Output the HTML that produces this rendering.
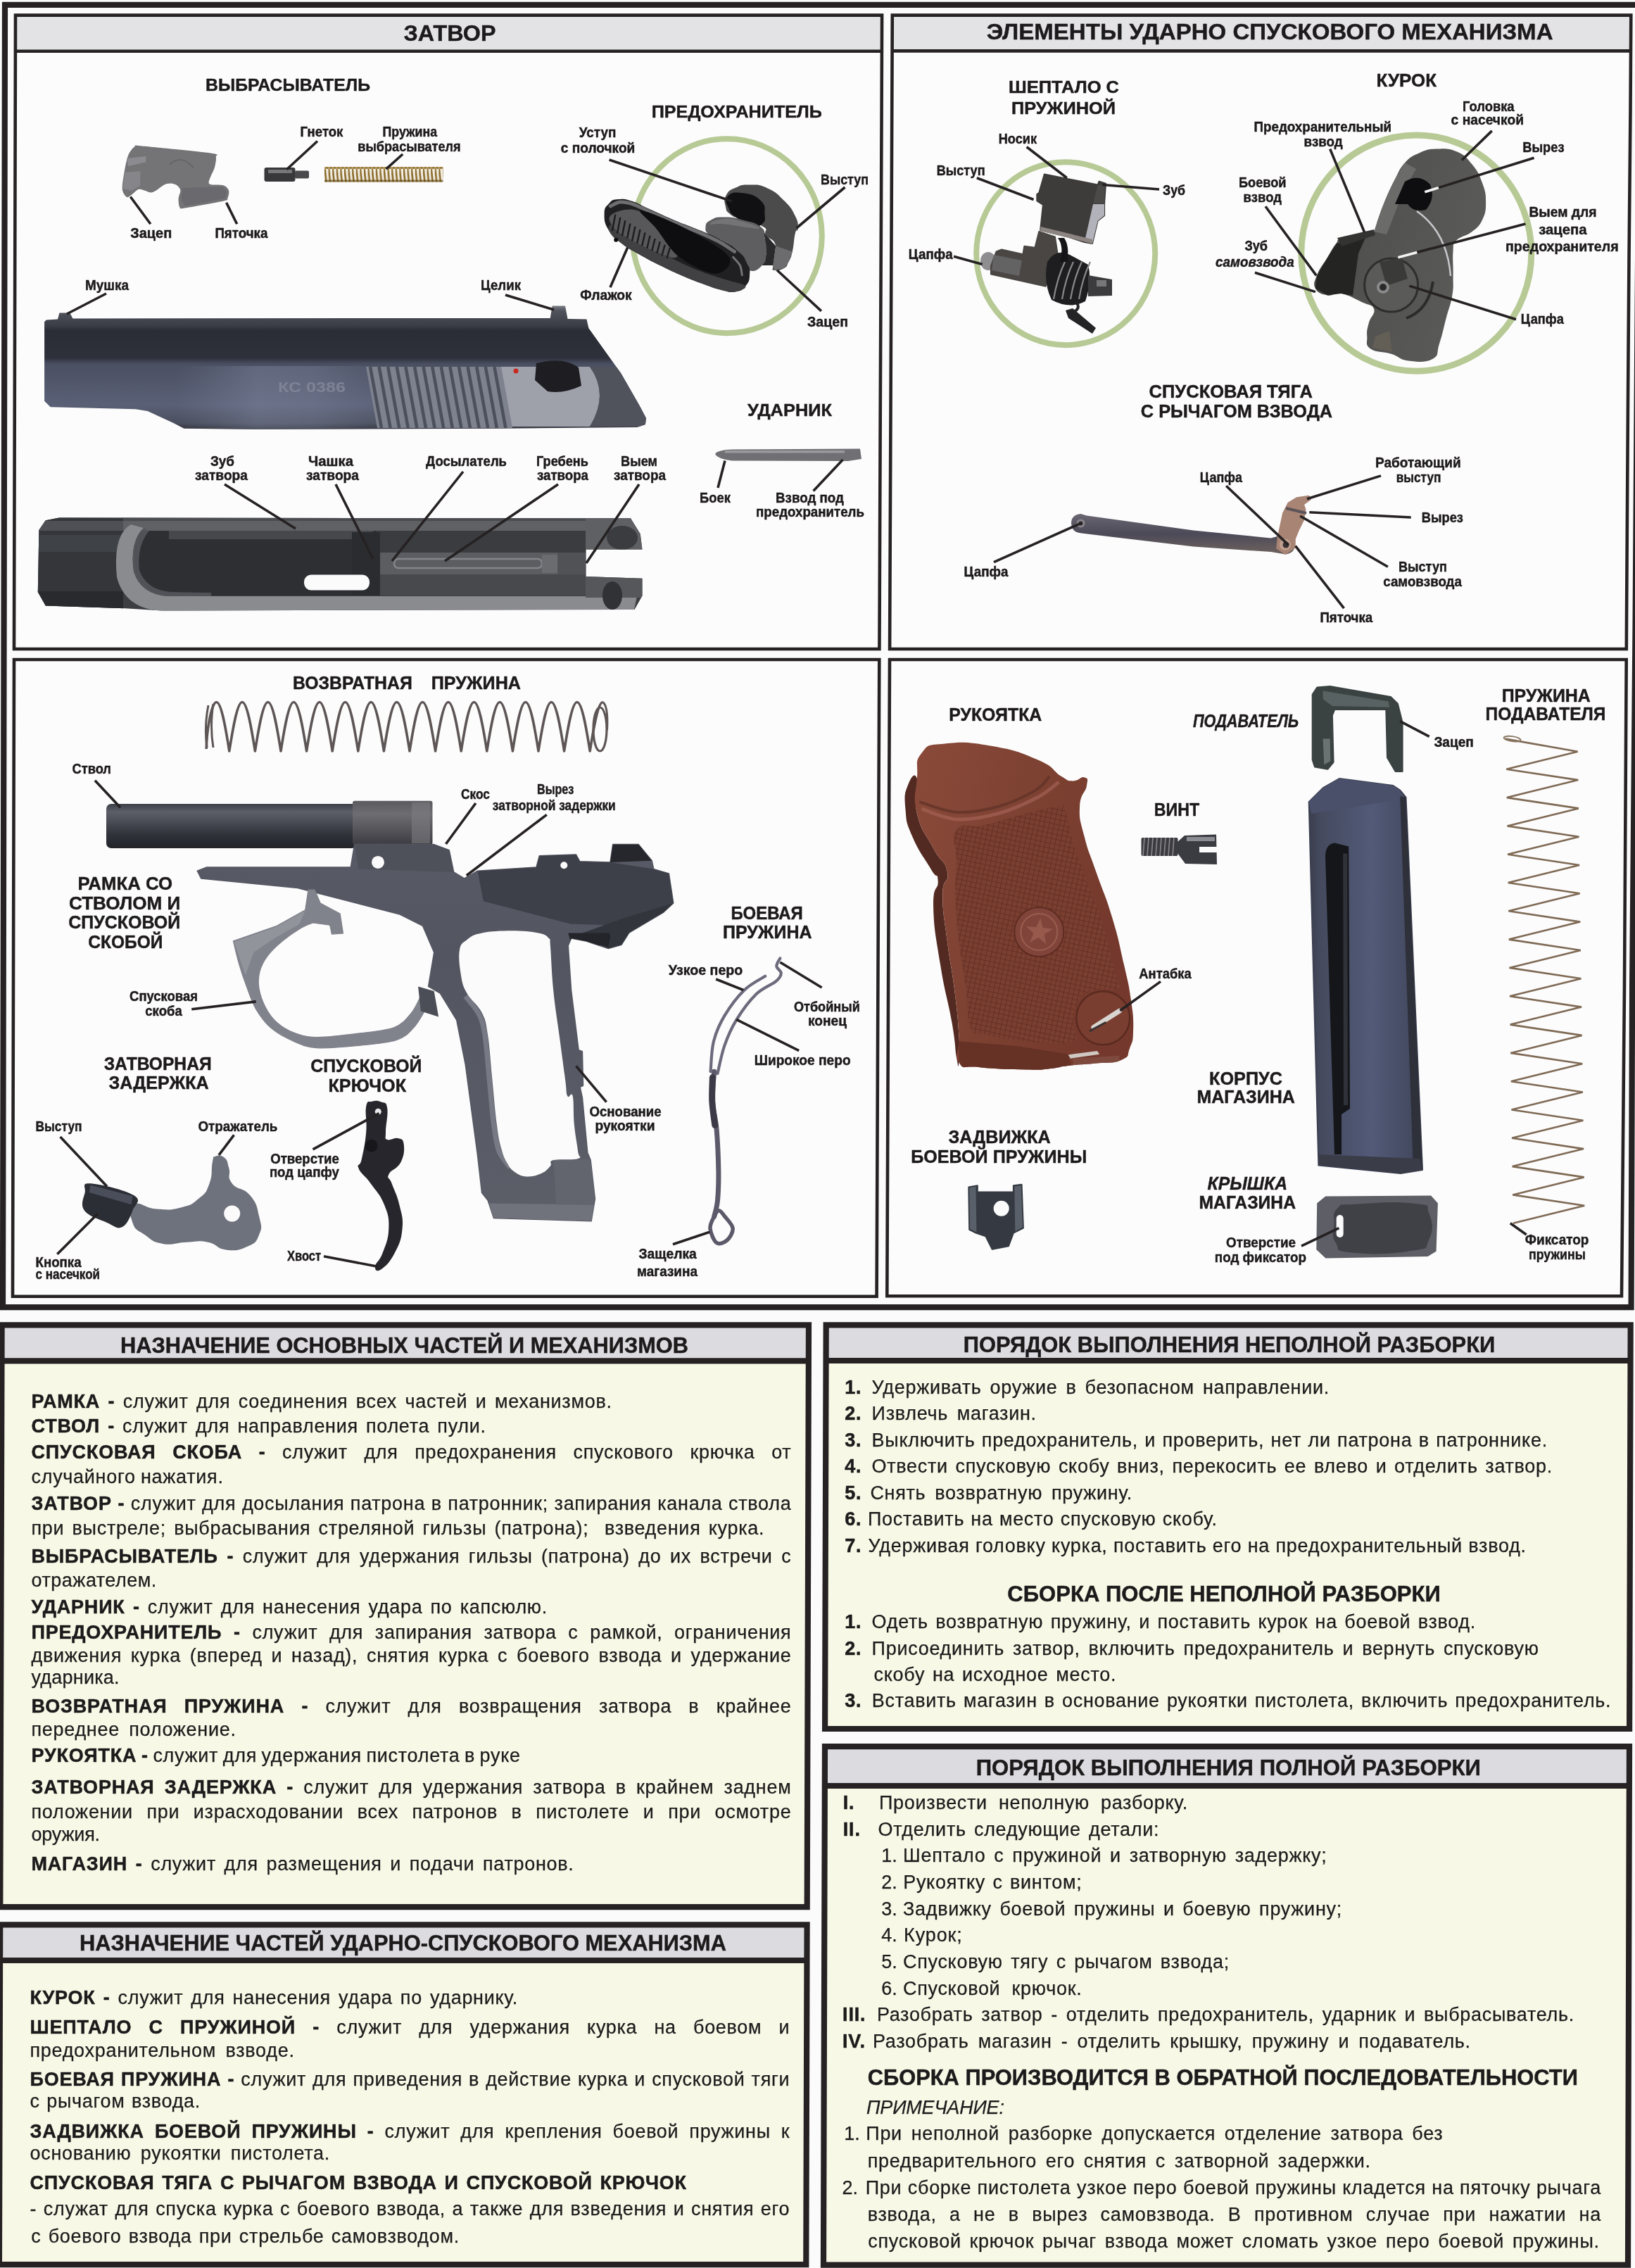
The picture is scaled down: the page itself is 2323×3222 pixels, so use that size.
<!DOCTYPE html><html><head><meta charset="utf-8"><title>PM</title><style>
html,body{margin:0;padding:0;background:#fbfbfb;}body{width:2323px;height:3222px;position:relative;overflow:hidden;filter:blur(0.5px);font-family:"Liberation Sans",sans-serif;}
svg{position:absolute;left:0;top:0;}svg text{font-family:"Liberation Sans",sans-serif;}
.ln{position:absolute;white-space:nowrap;font-size:27px;line-height:32px;height:32px;color:#1d1a1b;-webkit-text-stroke:0.25px #1d1a1b;}
.ln b{font-weight:bold;letter-spacing:0.8px;-webkit-text-stroke:0.5px #1d1a1b;}
</style></head><body>
<svg width="2323" height="3222" viewBox="0 0 2323 3222">
<defs>

<linearGradient id="gSlideT" x1="0" y1="0" x2="0" y2="1">
 <stop offset="0" stop-color="#7a7c84"/><stop offset="0.04" stop-color="#50525c"/><stop offset="0.16" stop-color="#3a3c46"/>
 <stop offset="0.2" stop-color="#2b2d36"/><stop offset="0.42" stop-color="#2e303a"/><stop offset="0.47" stop-color="#4a4f62"/>
 <stop offset="0.8" stop-color="#5a6076"/><stop offset="0.95" stop-color="#4a4e5e"/><stop offset="1" stop-color="#2e3038"/>
</linearGradient>
<linearGradient id="gSheen" x1="0" y1="0" x2="1" y2="0">
 <stop offset="0" stop-color="#8088a0" stop-opacity="0"/><stop offset="0.35" stop-color="#8890a8" stop-opacity="0.38"/>
 <stop offset="0.6" stop-color="#8890a8" stop-opacity="0.32"/><stop offset="1" stop-color="#8088a0" stop-opacity="0"/>
</linearGradient>
<clipPath id="cSlideT"><polygon points="63.1,457.0 66.0,454.5 82.0,453.6 84.4,444.4 99.3,444.4 103.4,452.4 781.8,451.9 784.6,434.6 803.0,434.6 806.5,453.0 833.5,453.6 836.4,466.2 882.4,530.6 908.2,575.5 918.0,593.9 916.9,603.0 905.4,607.1 709.9,608.8 364.9,610.0 261.5,608.8 247.0,601.3 209.7,584.0 192.5,581.2 71.7,578.3 63.1,569.7"/></clipPath>
<clipPath id="cSlideB"><polygon points="55.4,753.0 64.8,739.3 84.0,735.4 896.0,736.5 909.7,758.5 912.5,780.5 832.6,780.5 832.6,819.0 912.5,821.8 912.5,846.6 901.5,865.9 229.9,867.5 177.6,864.2 64.8,860.4 53.8,841.0"/></clipPath>
<linearGradient id="gSlideB" x1="0" y1="0" x2="0" y2="1">
 <stop offset="0" stop-color="#55575c"/><stop offset="0.12" stop-color="#3a3c41"/><stop offset="0.75" stop-color="#2d2f34"/>
 <stop offset="1" stop-color="#3a3c40"/>
</linearGradient>
<linearGradient id="gLever" x1="0" y1="0" x2="0.3" y2="1">
 <stop offset="0" stop-color="#55565a"/><stop offset="0.35" stop-color="#2a2a2c"/><stop offset="0.8" stop-color="#1c1c1e"/><stop offset="1" stop-color="#3a3a3e"/>
</linearGradient>
<pattern id="pSpr1" x="461" y="0" width="5.6" height="30" patternUnits="userSpaceOnUse">
 <rect x="0" y="0" width="5.6" height="30" fill="#f3efe4"/><path d="M0.6 0 L3.6 30" stroke="#8a6a2a" stroke-width="2.6"/>
</pattern>


<linearGradient id="gHam" x1="0" y1="0" x2="1" y2="0.3">
 <stop offset="0" stop-color="#454543"/><stop offset="0.4" stop-color="#515150"/><stop offset="1" stop-color="#5a5a59"/>
</linearGradient>
<linearGradient id="gBar" x1="0" y1="0" x2="0" y2="1">
 <stop offset="0" stop-color="#6a6672"/><stop offset="0.5" stop-color="#4c4a58"/><stop offset="1" stop-color="#6e625e"/>
</linearGradient>


<linearGradient id="gBarrel" x1="0" y1="0" x2="0" y2="1">
 <stop offset="0" stop-color="#3e4048"/><stop offset="0.18" stop-color="#5c5e68"/><stop offset="0.4" stop-color="#4a4c56"/>
 <stop offset="0.7" stop-color="#30323a"/><stop offset="1" stop-color="#22242a"/>
</linearGradient>
<linearGradient id="gChamber" x1="0" y1="0" x2="0" y2="1">
 <stop offset="0" stop-color="#5a5a5e"/><stop offset="0.3" stop-color="#6e6e72"/><stop offset="1" stop-color="#3c3c42"/>
</linearGradient>
<linearGradient id="gFrame" x1="0" y1="0" x2="0" y2="1">
 <stop offset="0" stop-color="#585b66"/><stop offset="0.3" stop-color="#535661"/><stop offset="1" stop-color="#5c5e68"/>
</linearGradient>
<clipPath id="cFrame"><polygon points="280.3,1237.2 293.8,1231.9 498.3,1231.9 503.7,1199.6 616.7,1199.6 638.2,1207.6 644.7,1238.9 659.7,1248.0 678.6,1237.2 762.0,1231.9 766.3,1215.7 818.5,1214.1 823.9,1223.8 867.0,1224.9 870.7,1199.6 907.3,1199.6 926.2,1222.7 928.8,1234.6 950.4,1241.0 956.8,1283.0 942.3,1296.4 893.9,1325.0 883.1,1342.2 864.3,1347.6 832.7,1337.1 811.6,1332.9 807.3,1343.5 811.6,1406.9 822.1,1491.6 827.4,1493.7 828.5,1542.3 824.2,1544.4 827.4,1559.2 834.8,1637.5 839.1,1648.1 845.4,1703.1 840.1,1734.8 701.5,1730.6 693.1,1705.2 684.6,1694.6 678.3,1639.6 669.8,1576.2 661.3,1512.7 648.7,1449.2 625.4,1411.2 608.6,1401.4 616.7,1353.0 600.5,1315.3 568.2,1299.1 422.9,1261.5 285.7,1248.0"/></clipPath>


<linearGradient id="gGrip" x1="0" y1="0" x2="1" y2="0.4">
 <stop offset="0" stop-color="#8a4a3a"/><stop offset="0.5" stop-color="#7e4232"/><stop offset="1" stop-color="#74392c"/>
</linearGradient>
<pattern id="pCheck" width="7" height="7" patternUnits="userSpaceOnUse" patternTransform="rotate(12)">
 <rect width="7" height="7" fill="#7a3f30"/><path d="M0 0H7M0 0V7" stroke="#5e2c22" stroke-width="1.6"/>
</pattern>
<linearGradient id="gMag" x1="0" y1="0" x2="1" y2="0">
 <stop offset="0" stop-color="#3a3d4c"/><stop offset="0.1" stop-color="#454a5e"/><stop offset="0.55" stop-color="#525a78"/>
 <stop offset="0.9" stop-color="#444a60"/><stop offset="1" stop-color="#30323e"/>
</linearGradient>
<clipPath id="cGrip"><path d="M1302.9 1106.1 C1304.7 1083.2 1299.0 1082.9 1309.5 1069.7 C1320.1 1056.5 1316.1 1059.2 1342.6 1056.5 C1369.0 1053.9 1373.4 1053.7 1408.6 1059.8 C1443.9 1066.0 1448.3 1068.2 1474.7 1079.6 C1501.1 1091.1 1494.5 1094.8 1507.7 1102.8 C1520.9 1110.7 1515.4 1108.9 1524.2 1109.4 C1533.0 1109.8 1535.4 1102.6 1540.7 1104.4 C1546.0 1106.2 1545.8 1105.0 1544.0 1116.0 C1542.3 1127.0 1535.0 1126.3 1534.1 1145.7 C1533.2 1165.1 1534.6 1164.0 1540.7 1188.6 C1546.9 1213.3 1546.7 1207.3 1557.2 1238.2 C1567.8 1269.0 1569.8 1269.0 1580.4 1304.2 C1590.9 1339.4 1589.8 1339.4 1596.9 1370.3 C1603.9 1401.1 1603.3 1395.2 1606.8 1419.8 C1610.3 1444.5 1610.5 1444.3 1610.1 1462.7 C1609.6 1481.2 1609.5 1477.7 1605.1 1489.2 C1600.7 1500.6 1606.3 1500.0 1593.6 1505.7 C1580.8 1511.4 1577.5 1508.4 1557.2 1510.6 C1537.0 1512.8 1535.2 1511.9 1517.6 1513.9 C1500.0 1516.0 1507.0 1516.7 1491.2 1518.2 C1475.3 1519.7 1484.6 1520.1 1458.2 1519.6 C1431.7 1519.0 1417.7 1519.1 1392.1 1516.3 C1366.6 1513.4 1370.3 1521.5 1362.4 1509.0 C1354.5 1496.5 1364.1 1497.5 1362.4 1469.4 C1360.6 1441.2 1360.2 1438.5 1355.8 1403.3 C1351.4 1368.1 1350.3 1372.5 1345.9 1337.2 C1341.5 1302.0 1339.3 1297.6 1339.3 1271.2 C1339.3 1244.8 1349.4 1255.8 1345.9 1238.2 C1342.3 1220.5 1337.5 1227.2 1326.1 1205.1 C1314.6 1183.1 1309.1 1182.0 1302.9 1155.6 C1296.8 1129.2 1301.2 1129.0 1302.9 1106.1Z"/></clipPath>

</defs>
<rect x="0" y="0" width="2323" height="3222" fill="#fbfbfb"/>
<path d="M2330.4 6.8 L7.0 6.8 L4.0 1857.2 L2317.6 1857.2 L2319.1 1400.0 L2323.6 882.0 L2325.7 569.0 L2327.1 366.0 L2329.0 157.0 Z" fill="none" stroke="#262223" stroke-width="8.2"/>
<polygon points="22.0,21.6 1253.1,21.6 1252.6,157.0 1251.7,366.0 1250.8,569.0 1249.6,882.0 1249.4,922.0 20.0,922.0" fill="#fcfcfc"/><polygon points="22.0,21.6 1253.1,21.6 1252.9,72.8 21.8,72.8" fill="#e3e3e5"/><line x1="21.8" y1="72.8" x2="1252.9" y2="72.8" stroke="#262223" stroke-width="4.6" stroke-linecap="butt"/><polygon points="22.0,21.6 1253.1,21.6 1252.6,157.0 1251.7,366.0 1250.8,569.0 1249.6,882.0 1249.4,922.0 20.0,922.0" fill="none" stroke="#262223" stroke-width="4.6"/>
<polygon points="1267.8,21.6 2317.3,21.6 2316.5,157.0 2314.5,366.0 2313.0,569.0 2311.0,882.0 2310.8,922.0 1264.1,922.0" fill="#fcfcfc"/><polygon points="1267.8,21.6 2317.3,21.6 2317.0,72.4 1267.6,72.4" fill="#e3e3e5"/><line x1="1267.6" y1="72.4" x2="2317.0" y2="72.4" stroke="#262223" stroke-width="4.6" stroke-linecap="butt"/><polygon points="1267.8,21.6 2317.3,21.6 2316.5,157.0 2314.5,366.0 2313.0,569.0 2311.0,882.0 2310.8,922.0 1264.1,922.0" fill="none" stroke="#262223" stroke-width="4.6"/>
<polygon points="20.0,937.0 1249.3,937.0 1247.4,1400.0 1245.6,1841.7 18.0,1841.7" fill="#fcfcfc"/><polygon points="20.0,937.0 1249.3,937.0 1247.4,1400.0 1245.6,1841.7 18.0,1841.7" fill="none" stroke="#262223" stroke-width="4.6"/>
<polygon points="1264.0,937.0 2310.7,937.0 2308.0,1400.0 2304.0,1841.2 1260.3,1841.2" fill="#fcfcfc"/><polygon points="1264.0,937.0 2310.7,937.0 2308.0,1400.0 2304.0,1841.2 1260.3,1841.2" fill="none" stroke="#262223" stroke-width="4.6"/>
<polygon points="2.6,1882.3 1149.0,1882.3 1146.7,2709.2 0.3,2709.2" fill="#f8f8e6"/><polygon points="2.6,1882.3 1149.0,1882.3 1148.9,1933.4 2.5,1933.4" fill="#dbdbe0"/><line x1="2.5" y1="1933.4" x2="1148.9" y2="1933.4" stroke="#262223" stroke-width="8.2" stroke-linecap="butt"/><polygon points="2.6,1882.3 1149.0,1882.3 1146.7,2709.2 0.3,2709.2" fill="none" stroke="#262223" stroke-width="8.2"/>
<polygon points="0.2,2734.3 1146.6,2734.3 1145.3,3217.2 -1.1,3217.2" fill="#f8f8e6"/><polygon points="0.2,2734.3 1146.6,2734.3 1146.5,2785.0 0.1,2785.0" fill="#dbdbe0"/><line x1="0.1" y1="2785.0" x2="1146.5" y2="2785.0" stroke="#262223" stroke-width="8.2" stroke-linecap="butt"/><polygon points="0.2,2734.3 1146.6,2734.3 1145.3,3217.2 -1.1,3217.2" fill="none" stroke="#262223" stroke-width="8.2"/>
<polygon points="1173.7,1882.3 2316.7,1882.3 2315.1,2456.0 1172.1,2456.0" fill="#f8f8e6"/><polygon points="1173.7,1882.3 2316.7,1882.3 2316.6,1933.0 1173.6,1933.0" fill="#dbdbe0"/><line x1="1173.6" y1="1933.0" x2="2316.6" y2="1933.0" stroke="#262223" stroke-width="8.2" stroke-linecap="butt"/><polygon points="1173.7,1882.3 2316.7,1882.3 2315.1,2456.0 1172.1,2456.0" fill="none" stroke="#262223" stroke-width="8.2"/>
<polygon points="1172.0,2481.2 2315.0,2481.2 2313.0,3217.7 1170.0,3217.7" fill="#f8f8e6"/><polygon points="1172.0,2481.2 2315.0,2481.2 2314.9,2537.0 1171.9,2537.0" fill="#dbdbe0"/><line x1="1171.9" y1="2537.0" x2="2314.9" y2="2537.0" stroke="#262223" stroke-width="8.2" stroke-linecap="butt"/><polygon points="1172.0,2481.2 2315.0,2481.2 2313.0,3217.7 1170.0,3217.7" fill="none" stroke="#262223" stroke-width="8.2"/>
<text x="573.6" y="58.3" font-size="32.0" font-weight="bold" font-style="normal" fill="#1d1a1b" stroke="#1d1a1b" stroke-width="0.45" textLength="130.9" lengthAdjust="spacingAndGlyphs">ЗАТВОР</text>
<text x="292.0" y="129.3" font-size="24.5" font-weight="bold" font-style="normal" fill="#1d1a1b" stroke="#1d1a1b" stroke-width="0.45" textLength="234.0" lengthAdjust="spacingAndGlyphs">ВЫБРАСЫВАТЕЛЬ</text>
<text x="925.7" y="166.8" font-size="24.5" font-weight="bold" font-style="normal" fill="#1d1a1b" stroke="#1d1a1b" stroke-width="0.45" textLength="242.2" lengthAdjust="spacingAndGlyphs">ПРЕДОХРАНИТЕЛЬ</text>
<text x="1062.0" y="591.3" font-size="24.5" font-weight="bold" font-style="normal" fill="#1d1a1b" stroke="#1d1a1b" stroke-width="0.45" textLength="120.0" lengthAdjust="spacingAndGlyphs">УДАРНИК</text>
<path d="M182.0 221.2 C184.2 215.7 188.2 210.4 191.2 208.3 C194.2 206.3 186.0 206.1 202.2 207.4 C218.4 208.8 283.8 215.2 299.4 217.5 C315.1 219.9 306.0 220.0 306.8 223.0 C307.6 226.1 306.1 233.6 305.0 237.7 C303.9 241.8 300.6 247.0 299.4 250.6 C298.3 254.1 294.9 259.6 297.6 261.6 C300.4 263.5 313.7 262.0 317.8 263.4 C321.9 264.8 324.3 268.0 325.1 270.7 C326.0 273.5 324.4 279.5 323.3 281.7 C322.2 283.9 326.9 283.3 317.8 285.4 C308.7 287.5 272.1 294.1 262.8 295.5 C253.4 296.9 256.8 296.7 255.4 294.6 C254.0 292.5 253.4 285.3 253.6 281.7 C253.7 278.2 256.6 273.5 256.3 270.7 C256.1 268.0 253.8 264.9 251.7 263.4 C249.7 261.9 245.3 260.8 242.6 260.6 C239.8 260.5 236.1 261.2 233.4 262.5 C230.6 263.7 227.0 267.2 224.2 268.9 C221.5 270.6 217.8 273.2 215.0 273.5 C212.3 273.8 208.6 271.4 205.9 270.7 C203.1 270.0 199.4 268.1 196.7 268.9 C193.9 269.7 190.0 274.6 187.5 276.2 C185.0 277.9 182.2 281.0 180.2 279.9 C178.1 278.8 174.3 274.1 173.8 268.9 C173.2 263.7 175.3 252.2 176.5 245.0 C177.8 237.9 179.8 226.7 182.0 221.2Z" fill="#747477" />
<polygon points="177.4,245.0 199.4,243.2 199.4,263.4 187.5,270.7 174.7,268.0" fill="#86868a" />
<polygon points="180.2,224.9 207.7,222.1 206.8,230.4 182.0,235.9" fill="#8c8c90" />
<polygon points="259.1,267.1 316.0,265.2 322.4,271.7 320.6,281.7 262.8,292.8 257.2,281.7" fill="#6a6a6e" />
<path d="M240.7 234.0 q16 -16 34 4" stroke="#66666a" stroke-width="2" fill="none"/>
<rect x="375.5" y="238" width="44" height="20" rx="3" fill="#38383a"/><rect x="381" y="241" width="34" height="5" fill="#77777a"/>
<rect x="419" y="242.5" width="20" height="11" rx="2" fill="#4a4a4c"/>
<rect x="461" y="237" width="168.5" height="21.5" fill="url(#pSpr1)"/>
<rect x="461" y="237" width="168.5" height="3" fill="#9a7a38" opacity="0.7"/><rect x="461" y="255.5" width="168.5" height="3" fill="#6a5020" opacity="0.7"/>
<ellipse cx="1033.2" cy="335.2" rx="134.6" ry="138" fill="none" stroke="#b7c995" stroke-width="8"/>
<path d="M1031.8 277.2 C1035.7 270.1 1036.6 270.3 1045.5 266.4 C1054.4 262.5 1053.1 262.2 1065.1 262.5 C1077.1 262.8 1077.5 261.4 1090.5 267.4 C1103.6 273.4 1103.6 274.6 1114.0 285.0 C1124.5 295.5 1124.5 296.1 1129.7 306.5 C1134.9 317.0 1133.6 317.4 1133.6 324.2 C1133.6 331.0 1131.8 323.1 1129.7 332.0 C1127.6 340.9 1128.4 346.5 1125.8 357.4 C1123.2 368.4 1123.0 366.8 1119.9 373.1 C1116.8 379.4 1119.2 378.1 1114.0 380.9 C1108.8 383.8 1104.5 384.9 1100.3 383.9 C1096.1 382.8 1097.8 386.1 1098.4 377.0 C1098.9 367.9 1104.9 361.1 1102.3 349.6 C1099.7 338.1 1093.3 341.3 1088.6 334.0 C1083.9 326.6 1093.5 327.9 1084.7 322.2 C1075.8 316.5 1067.8 317.1 1055.3 312.4 C1042.8 307.7 1044.2 309.8 1037.7 304.6 C1031.2 299.4 1032.4 300.2 1030.8 292.8 C1029.3 285.5 1027.9 284.2 1031.8 277.2Z" fill="#4b4b4c" />
<polygon points="1102.3,349.6 1125.8,357.4 1119.9,373.1 1114.0,380.9 1100.3,383.9 1098.4,377.0" fill="#6c6c6e" />
<path d="M1033.8 279.1 C1039.0 273.1 1042.8 272.7 1055.3 274.3 C1067.8 275.8 1072.4 276.9 1080.8 285.0 C1089.1 293.1 1086.1 295.7 1086.6 304.6 C1087.1 313.5 1087.9 314.1 1082.7 318.3 C1077.5 322.5 1077.0 322.9 1067.1 320.3 C1057.1 317.6 1053.9 314.8 1045.5 308.5 C1037.2 302.2 1038.9 304.6 1035.7 296.8 C1032.6 288.9 1028.6 285.1 1033.8 279.1Z" fill="#111113" />
<polygon points="1080.8,322.2 1088.6,334.0 1102.3,349.6 1098.4,377.0 1082.7,377.0 1088.6,361.4 1086.6,337.9" fill="#2a2a2c" />
<path d="M1002.5 322.2 C1003.0 316.5 1003.5 316.1 1010.3 312.4 C1017.1 308.8 1015.9 308.5 1027.9 308.5 C1039.9 308.5 1041.2 308.8 1055.3 312.4 C1069.4 316.1 1072.4 315.4 1080.8 322.2 C1089.1 329.0 1084.5 327.4 1086.6 337.9 C1088.7 348.3 1089.6 350.9 1088.6 361.4 C1087.5 371.8 1088.5 370.7 1082.7 377.0 C1077.0 383.3 1072.8 385.9 1067.1 384.8 C1061.3 383.8 1066.4 380.9 1061.2 373.1 C1056.0 365.3 1056.9 363.8 1047.5 355.5 C1038.1 347.1 1036.4 347.5 1025.9 341.8 C1015.5 336.0 1014.6 339.2 1008.3 334.0 C1002.1 328.7 1001.9 327.9 1002.5 322.2Z" fill="#5e5e60" />
<path d="M1008.3 318.3 C1008.3 316.3 1015.4 311.8 1027.9 310.9 C1040.4 309.9 1041.7 311.2 1055.3 314.8 C1068.9 318.3 1078.8 322.2 1078.8 324.2 C1078.8 326.1 1068.9 323.8 1055.3 322.2 C1041.7 320.6 1040.4 319.3 1027.9 318.3 C1015.4 317.2 1008.3 320.3 1008.3 318.3Z" fill="#747476" />
<path d="M858.6 304.6 C858.6 294.2 860.0 294.7 865.4 288.9 C870.9 283.2 870.3 283.8 879.1 283.1 C888.0 282.3 887.2 282.3 898.7 286.0 C910.2 289.7 906.5 289.7 922.2 296.8 C937.9 303.8 937.6 304.1 957.4 312.4 C977.3 320.8 978.3 320.3 996.6 328.1 C1014.9 335.9 1012.4 334.5 1025.9 341.8 C1039.5 349.1 1038.1 347.1 1047.5 355.5 C1056.9 363.8 1056.5 363.7 1061.2 373.1 C1065.9 382.5 1065.6 381.8 1065.1 390.7 C1064.6 399.6 1064.4 400.1 1059.2 406.4 C1054.0 412.6 1054.4 412.6 1045.5 414.2 C1036.6 415.8 1039.0 415.4 1025.9 412.2 C1012.9 409.1 1012.2 408.2 996.6 402.5 C980.9 396.7 982.9 397.5 967.2 390.7 C951.6 383.9 953.5 384.8 937.9 377.0 C922.2 369.2 923.1 369.7 908.5 361.4 C893.9 353.0 894.5 354.6 883.1 345.7 C871.6 336.8 872.0 339.0 865.4 328.1 C858.9 317.1 858.6 315.0 858.6 304.6Z" fill="#202022" />
<path d="M865.4 328.1 C867.8 333.6 874.4 339.0 883.1 345.7 C891.7 352.4 897.5 355.1 908.5 361.4 C919.5 367.6 926.1 371.1 937.9 377.0 C949.6 382.9 955.5 385.6 967.2 390.7 C979.0 395.8 984.8 398.2 996.6 402.5 C1008.3 406.8 1016.2 409.9 1025.9 412.2 C1035.7 414.6 1038.9 415.4 1045.5 414.2 C1052.2 413.0 1061.2 409.5 1059.2 406.4 C1057.3 403.2 1048.3 402.7 1035.7 398.5 C1023.2 394.4 1012.2 391.9 996.6 385.8 C980.9 379.8 973.1 376.0 957.4 368.2 C941.8 360.4 932.0 354.9 918.3 346.7 C904.6 338.5 898.3 332.8 888.9 327.1 C879.5 321.4 876.0 318.1 871.3 318.3 C866.6 318.5 863.1 322.6 865.4 328.1Z" fill="#414143" />
<path d="M867.4 292.8 C869.7 291.9 875.9 287.5 881.1 287.0 C886.3 286.5 891.9 287.7 898.7 289.9 C905.6 292.1 912.4 295.9 922.2 300.3 C932.0 304.6 945.0 310.7 957.4 315.9 C969.8 321.2 985.5 326.8 996.6 331.6 C1007.7 336.4 1016.2 340.4 1024.0 344.7 C1031.8 349.0 1040.3 355.3 1043.6 357.4" stroke="#6e6e70" stroke-width="5" fill="none" stroke-linecap="round"/>
<path d="M869.4 304.6 C876.0 299.9 892.1 295.2 904.6 298.7 C917.1 302.2 921.4 312.0 932.0 322.2 C942.6 332.4 951.6 341.0 957.4 349.6 C963.3 358.2 964.5 362.9 961.4 365.3 C958.2 367.6 954.3 366.1 941.8 361.4 C929.3 356.7 912.8 349.6 898.7 341.8 C884.6 334.0 877.2 329.6 871.3 322.2 C865.4 314.8 862.7 309.3 869.4 304.6Z" fill="#58585a" />
<line x1="874.3" y1="304.6" x2="869.9" y2="328.1" stroke="#1c1c1e" stroke-width="2.4"/>
<line x1="881.3" y1="308.9" x2="877.0" y2="331.6" stroke="#1c1c1e" stroke-width="2.4"/>
<line x1="888.3" y1="313.2" x2="884.0" y2="335.1" stroke="#1c1c1e" stroke-width="2.4"/>
<line x1="895.4" y1="317.5" x2="891.1" y2="338.6" stroke="#1c1c1e" stroke-width="2.4"/>
<line x1="902.4" y1="321.8" x2="898.1" y2="342.2" stroke="#1c1c1e" stroke-width="2.4"/>
<line x1="909.5" y1="326.1" x2="905.2" y2="345.7" stroke="#1c1c1e" stroke-width="2.4"/>
<line x1="916.5" y1="330.4" x2="912.2" y2="349.2" stroke="#1c1c1e" stroke-width="2.4"/>
<line x1="923.6" y1="334.7" x2="919.3" y2="352.7" stroke="#1c1c1e" stroke-width="2.4"/>
<line x1="930.6" y1="339.0" x2="926.3" y2="356.3" stroke="#1c1c1e" stroke-width="2.4"/>
<line x1="937.7" y1="343.3" x2="933.4" y2="359.8" stroke="#1c1c1e" stroke-width="2.4"/>
<line x1="944.7" y1="347.7" x2="940.4" y2="363.3" stroke="#1c1c1e" stroke-width="2.4"/>
<line x1="951.8" y1="352.0" x2="947.5" y2="366.8" stroke="#1c1c1e" stroke-width="2.4"/>
<path d="M910.5 298.7 C918.0 299.0 956.1 315.0 977.0 326.1 C997.9 337.2 1029.2 354.8 1035.7 365.3 C1042.3 375.7 1027.9 388.8 1016.2 388.8 C1004.4 388.8 979.3 376.0 965.3 365.3 C951.2 354.5 941.1 335.3 932.0 324.2 C922.9 313.1 903.0 298.4 910.5 298.7Z" fill="#0e0e10" />
<path d="M1041.6 365.3 C1043.2 367.2 1049.3 372.8 1051.4 377.0 C1053.5 381.3 1053.8 388.4 1054.3 390.7" stroke="#8a8a8c" stroke-width="3" fill="none" stroke-linecap="round" opacity="0.8"/>
<circle cx="875.2" cy="340.8" r="3" fill="#0c0c0d"/>
<polygon points="63.1,457.0 66.0,454.5 82.0,453.6 84.4,444.4 99.3,444.4 103.4,452.4 781.8,451.9 784.6,434.6 803.0,434.6 806.5,453.0 833.5,453.6 836.4,466.2 882.4,530.6 908.2,575.5 918.0,593.9 916.9,603.0 905.4,607.1 709.9,608.8 364.9,610.0 261.5,608.8 247.0,601.3 209.7,584.0 192.5,581.2 71.7,578.3 63.1,569.7" fill="url(#gSlideT)" />
<g clip-path="url(#cSlideT)">
<rect x="250" y="520" width="330" height="92" fill="url(#gSheen)"/>
<path d="M705 521 L838 521 Q866 560 838 606 L720 606 Z" fill="#9ea0aa"/>
<path d="M520 521 L712 521 L728 608 L536 608 Z" fill="#7e818e"/>
<path d="M526.0 521 L542.0 608" stroke="#4c4f5c" stroke-width="4.5"/>
<path d="M538.6 521 L554.6 608" stroke="#4c4f5c" stroke-width="4.5"/>
<path d="M551.2 521 L567.2 608" stroke="#4c4f5c" stroke-width="4.5"/>
<path d="M563.8 521 L579.8 608" stroke="#4c4f5c" stroke-width="4.5"/>
<path d="M576.4 521 L592.4 608" stroke="#4c4f5c" stroke-width="4.5"/>
<path d="M589.0 521 L605.0 608" stroke="#4c4f5c" stroke-width="4.5"/>
<path d="M601.6 521 L617.6 608" stroke="#4c4f5c" stroke-width="4.5"/>
<path d="M614.2 521 L630.2 608" stroke="#4c4f5c" stroke-width="4.5"/>
<path d="M626.8 521 L642.8 608" stroke="#4c4f5c" stroke-width="4.5"/>
<path d="M639.4 521 L655.4 608" stroke="#4c4f5c" stroke-width="4.5"/>
<path d="M652.0 521 L668.0 608" stroke="#4c4f5c" stroke-width="4.5"/>
<path d="M664.6 521 L680.6 608" stroke="#4c4f5c" stroke-width="4.5"/>
<path d="M677.2 521 L693.2 608" stroke="#4c4f5c" stroke-width="4.5"/>
<path d="M689.8 521 L705.8 608" stroke="#4c4f5c" stroke-width="4.5"/>
<path d="M702.4 521 L718.4 608" stroke="#4c4f5c" stroke-width="4.5"/>
<path d="M838 521 L880 521 L925 606 L838 606 Q866 560 838 521 Z" fill="#50525c"/>
<path d="M762 516 Q800 506 822 522 L826 548 Q800 560 778 556 L760 540 Z" fill="#1e1e22"/>
<circle cx="733" cy="527" r="3.5" fill="#c8281e"/>
<text x="395" y="557" font-size="20" font-weight="bold" fill="#7e8396" textLength="96" lengthAdjust="spacingAndGlyphs">КС 0386</text>
</g>
<polygon points="55.4,753.0 64.8,739.3 84.0,735.4 896.0,736.5 909.7,758.5 912.5,780.5 832.6,780.5 832.6,819.0 912.5,821.8 912.5,846.6 901.5,865.9 229.9,867.5 177.6,864.2 64.8,860.4 53.8,841.0" fill="#3c3e42" />
<g clip-path="url(#cSlideB)">
<rect x="50" y="735" width="125" height="135" fill="#34363a"/>
<rect x="50" y="740" width="125" height="14" fill="#55575c" opacity="0.8"/>
<rect x="50" y="760" width="125" height="24" fill="#45474c" opacity="0.7"/>
<rect x="50" y="840" width="125" height="26" fill="#26282b" opacity="0.8"/>
<rect x="175" y="735" width="740" height="19" fill="#5f6165"/>
<rect x="175" y="735" width="740" height="5" fill="#4a4c50"/>
<path d="M200 754 L535 754 L535 846 L240 846 Q200 842 192 810 Q188 772 200 754Z" fill="#2d2f33"/>
<rect x="240" y="754" width="290" height="12" fill="#46484c"/>
<rect x="535" y="754" width="297" height="31" fill="#3a3c3f"/>
<rect x="540" y="785" width="252" height="31" fill="#5b5d60"/>
<rect x="560" y="794" width="210" height="13" rx="6" fill="none" stroke="#83858a" stroke-width="2.5"/>
<rect x="770" y="788" width="26" height="26" fill="#6a6c70"/>
<rect x="535" y="816" width="297" height="30" fill="#47494c"/>
<rect x="792" y="785" width="40" height="31" fill="#505255"/>
<rect x="500" y="756" width="40" height="90" fill="#2a2c2f"/>
<path d="M186 745 Q160 760 166 820 Q178 866 232 868 L901 866 L905 847 L238 847 Q200 844 190 812 Q184 770 204 750 Z" fill="#898b8f"/>
<path d="M204 750 Q184 770 190 812 Q200 844 238 847 L300 847 L300 842 L242 841 Q208 838 198 810 Q194 775 212 754 Z" fill="#55575b" opacity="0.9"/>
<rect x="832" y="736" width="85" height="45" fill="#5e6063"/>
<ellipse cx="884" cy="764" rx="22" ry="17" fill="#3a3c3f"/>
<rect x="832" y="819" width="85" height="30" fill="#55575a"/>
<ellipse cx="870" cy="846" rx="14" ry="20" fill="#303235"/>
</g>
<rect x="432" y="816.5" width="93" height="22" rx="10" fill="#fbfbfb"/>
<path d="M1016 645 Q1020 639 1040 638.5 L1222 637.5 L1224 652 L1205 655 L1040 654.5 Q1020 652 1016 645Z" fill="#707074"/>
<rect x="1030" y="640" width="170" height="3.5" fill="#9a9a9e"/>
<line x1="451.0" y1="200.5" x2="407.3" y2="240.8" stroke="#262223" stroke-width="3.6" stroke-linecap="butt"/>
<line x1="572.2" y1="219.0" x2="548.6" y2="240.2" stroke="#262223" stroke-width="3.6" stroke-linecap="butt"/>
<line x1="213.9" y1="318.2" x2="185.3" y2="279.5" stroke="#262223" stroke-width="3.6" stroke-linecap="butt"/>
<line x1="336.7" y1="318.2" x2="321.6" y2="287.9" stroke="#262223" stroke-width="3.6" stroke-linecap="butt"/>
<line x1="151.0" y1="417.0" x2="95.0" y2="446.0" stroke="#262223" stroke-width="3.6" stroke-linecap="butt"/>
<line x1="718.0" y1="419.0" x2="787.0" y2="440.0" stroke="#262223" stroke-width="3.6" stroke-linecap="butt"/>
<line x1="865.6" y1="227.0" x2="1040.0" y2="286.0" stroke="#262223" stroke-width="3.6" stroke-linecap="butt"/>
<line x1="1200.5" y1="266.0" x2="1131.7" y2="324.0" stroke="#262223" stroke-width="3.6" stroke-linecap="butt"/>
<line x1="867.0" y1="408.3" x2="891.6" y2="351.7" stroke="#262223" stroke-width="3.6" stroke-linecap="butt"/>
<line x1="1166.9" y1="441.9" x2="1104.0" y2="383.8" stroke="#262223" stroke-width="3.6" stroke-linecap="butt"/>
<line x1="319.0" y1="688.0" x2="420.0" y2="751.0" stroke="#262223" stroke-width="3.6" stroke-linecap="butt"/>
<line x1="477.0" y1="688.0" x2="530.0" y2="794.0" stroke="#262223" stroke-width="3.6" stroke-linecap="butt"/>
<line x1="658.0" y1="670.0" x2="557.0" y2="797.0" stroke="#262223" stroke-width="3.6" stroke-linecap="butt"/>
<line x1="793.0" y1="688.0" x2="632.0" y2="797.0" stroke="#262223" stroke-width="3.6" stroke-linecap="butt"/>
<line x1="908.0" y1="688.0" x2="833.0" y2="800.0" stroke="#262223" stroke-width="3.6" stroke-linecap="butt"/>
<line x1="1030.0" y1="654.5" x2="1020.0" y2="693.0" stroke="#262223" stroke-width="3.6" stroke-linecap="butt"/>
<line x1="1197.5" y1="653.0" x2="1155.6" y2="697.5" stroke="#262223" stroke-width="3.6" stroke-linecap="butt"/>
<text x="426.5" y="194.0" font-size="19.5" font-weight="bold" font-style="normal" fill="#1d1a1b" stroke="#1d1a1b" stroke-width="0.45" textLength="60.9" lengthAdjust="spacingAndGlyphs">Гнеток</text>
<text x="543.6" y="194.0" font-size="19.5" font-weight="bold" font-style="normal" fill="#1d1a1b" stroke="#1d1a1b" stroke-width="0.45" textLength="77.4" lengthAdjust="spacingAndGlyphs">Пружина</text>
<text x="508.3" y="214.5" font-size="19.5" font-weight="bold" font-style="normal" fill="#1d1a1b" stroke="#1d1a1b" stroke-width="0.45" textLength="146.3" lengthAdjust="spacingAndGlyphs">выбрасывателя</text>
<text x="185.3" y="338.0" font-size="19.5" font-weight="bold" font-style="normal" fill="#1d1a1b" stroke="#1d1a1b" stroke-width="0.45" textLength="58.9" lengthAdjust="spacingAndGlyphs">Зацеп</text>
<text x="305.4" y="338.0" font-size="19.5" font-weight="bold" font-style="normal" fill="#1d1a1b" stroke="#1d1a1b" stroke-width="0.45" textLength="75.0" lengthAdjust="spacingAndGlyphs">Пяточка</text>
<text x="121.0" y="411.5" font-size="19.5" font-weight="bold" font-style="normal" fill="#1d1a1b" stroke="#1d1a1b" stroke-width="0.45" textLength="62.0" lengthAdjust="spacingAndGlyphs">Мушка</text>
<text x="683.0" y="411.5" font-size="19.5" font-weight="bold" font-style="normal" fill="#1d1a1b" stroke="#1d1a1b" stroke-width="0.45" textLength="57.0" lengthAdjust="spacingAndGlyphs">Целик</text>
<text x="822.8" y="195.0" font-size="19.5" font-weight="bold" font-style="normal" fill="#1d1a1b" stroke="#1d1a1b" stroke-width="0.45" textLength="52.6" lengthAdjust="spacingAndGlyphs">Уступ</text>
<text x="796.8" y="216.5" font-size="19.5" font-weight="bold" font-style="normal" fill="#1d1a1b" stroke="#1d1a1b" stroke-width="0.45" textLength="105.5" lengthAdjust="spacingAndGlyphs">с полочкой</text>
<text x="1166.0" y="262.3" font-size="19.5" font-weight="bold" font-style="normal" fill="#1d1a1b" stroke="#1d1a1b" stroke-width="0.45" textLength="68.0" lengthAdjust="spacingAndGlyphs">Выступ</text>
<text x="824.3" y="426.0" font-size="19.5" font-weight="bold" font-style="normal" fill="#1d1a1b" stroke="#1d1a1b" stroke-width="0.45" textLength="73.4" lengthAdjust="spacingAndGlyphs">Флажок</text>
<text x="1147.0" y="464.0" font-size="19.5" font-weight="bold" font-style="normal" fill="#1d1a1b" stroke="#1d1a1b" stroke-width="0.45" textLength="58.0" lengthAdjust="spacingAndGlyphs">Зацеп</text>
<text x="299.0" y="662.0" font-size="19.5" font-weight="bold" font-style="normal" fill="#1d1a1b" stroke="#1d1a1b" stroke-width="0.45" textLength="34.0" lengthAdjust="spacingAndGlyphs">Зуб</text>
<text x="277.0" y="682.0" font-size="19.5" font-weight="bold" font-style="normal" fill="#1d1a1b" stroke="#1d1a1b" stroke-width="0.45" textLength="75.0" lengthAdjust="spacingAndGlyphs">затвора</text>
<text x="438.0" y="662.0" font-size="19.5" font-weight="bold" font-style="normal" fill="#1d1a1b" stroke="#1d1a1b" stroke-width="0.45" textLength="64.0" lengthAdjust="spacingAndGlyphs">Чашка</text>
<text x="435.0" y="682.0" font-size="19.5" font-weight="bold" font-style="normal" fill="#1d1a1b" stroke="#1d1a1b" stroke-width="0.45" textLength="75.0" lengthAdjust="spacingAndGlyphs">затвора</text>
<text x="605.0" y="662.0" font-size="19.5" font-weight="bold" font-style="normal" fill="#1d1a1b" stroke="#1d1a1b" stroke-width="0.45" textLength="115.0" lengthAdjust="spacingAndGlyphs">Досылатель</text>
<text x="762.0" y="662.0" font-size="19.5" font-weight="bold" font-style="normal" fill="#1d1a1b" stroke="#1d1a1b" stroke-width="0.45" textLength="74.0" lengthAdjust="spacingAndGlyphs">Гребень</text>
<text x="763.0" y="682.0" font-size="19.5" font-weight="bold" font-style="normal" fill="#1d1a1b" stroke="#1d1a1b" stroke-width="0.45" textLength="73.0" lengthAdjust="spacingAndGlyphs">затвора</text>
<text x="882.0" y="662.0" font-size="19.5" font-weight="bold" font-style="normal" fill="#1d1a1b" stroke="#1d1a1b" stroke-width="0.45" textLength="52.0" lengthAdjust="spacingAndGlyphs">Выем</text>
<text x="872.0" y="682.0" font-size="19.5" font-weight="bold" font-style="normal" fill="#1d1a1b" stroke="#1d1a1b" stroke-width="0.45" textLength="74.0" lengthAdjust="spacingAndGlyphs">затвора</text>
<text x="994.0" y="714.3" font-size="19.5" font-weight="bold" font-style="normal" fill="#1d1a1b" stroke="#1d1a1b" stroke-width="0.45" textLength="44.0" lengthAdjust="spacingAndGlyphs">Боек</text>
<text x="1102.0" y="714.3" font-size="19.5" font-weight="bold" font-style="normal" fill="#1d1a1b" stroke="#1d1a1b" stroke-width="0.45" textLength="97.0" lengthAdjust="spacingAndGlyphs">Взвод под</text>
<text x="1074.0" y="733.5" font-size="19.5" font-weight="bold" font-style="normal" fill="#1d1a1b" stroke="#1d1a1b" stroke-width="0.45" textLength="154.0" lengthAdjust="spacingAndGlyphs">предохранитель</text>
<text x="1401.8" y="56.4" font-size="32.0" font-weight="bold" font-style="normal" fill="#1d1a1b" stroke="#1d1a1b" stroke-width="0.45" textLength="804.7" lengthAdjust="spacingAndGlyphs">ЭЛЕМЕНТЫ УДАРНО СПУСКОВОГО МЕХАНИЗМА</text>
<text x="1433.0" y="132.4" font-size="24.5" font-weight="bold" font-style="normal" fill="#1d1a1b" stroke="#1d1a1b" stroke-width="0.45" textLength="157.0" lengthAdjust="spacingAndGlyphs">ШЕПТАЛО С</text>
<text x="1437.0" y="161.5" font-size="24.5" font-weight="bold" font-style="normal" fill="#1d1a1b" stroke="#1d1a1b" stroke-width="0.45" textLength="148.0" lengthAdjust="spacingAndGlyphs">ПРУЖИНОЙ</text>
<text x="1955.5" y="122.5" font-size="25.0" font-weight="bold" font-style="normal" fill="#1d1a1b" stroke="#1d1a1b" stroke-width="0.45" textLength="85.5" lengthAdjust="spacingAndGlyphs">КУРОК</text>
<text x="1632.6" y="564.5" font-size="25.0" font-weight="bold" font-style="normal" fill="#1d1a1b" stroke="#1d1a1b" stroke-width="0.45" textLength="232.4" lengthAdjust="spacingAndGlyphs">СПУСКОВАЯ ТЯГА</text>
<text x="1620.8" y="592.5" font-size="25.0" font-weight="bold" font-style="normal" fill="#1d1a1b" stroke="#1d1a1b" stroke-width="0.45" textLength="272.2" lengthAdjust="spacingAndGlyphs">С РЫЧАГОМ ВЗВОДА</text>
<ellipse cx="1514.2" cy="360.2" rx="127" ry="130" fill="none" stroke="#b7c995" stroke-width="8"/>
<ellipse cx="2012.3" cy="359.6" rx="163.5" ry="167.6" fill="none" stroke="#b7c995" stroke-width="9"/>
<ellipse cx="1404" cy="371" rx="11" ry="13" fill="#8e8e90"/>
<polygon points="1476.2,328.9 1498.9,336.5 1502.7,361.2 1493.2,389.6 1485.7,406.7 1407.9,389.6 1407.9,378.2 1415.5,357.4 1423.1,354.5 1453.4,361.2 1455.3,349.8 1470.5,351.7" fill="#4a4644" stroke="#4a4644" stroke-width="2" stroke-linejoin="round"/>
<path d="M1412 362 L1452 370 L1448 392 L1409 384 Z" fill="#6a6a6c" opacity="0.8"/>
<path d="M1488 372 Q1500 352 1520 362 L1546 376 Q1552 400 1542 428 Q1520 440 1494 426 Q1482 400 1488 372Z" fill="#1e1e20"/>
<path d="M1497.0 425 Q1502.0 395 1513.0 372" stroke="#8a8a8e" stroke-width="2.2" fill="none"/>
<path d="M1509.0 425 Q1514.0 395 1525.0 372" stroke="#8a8a8e" stroke-width="2.2" fill="none"/>
<path d="M1521.0 425 Q1526.0 395 1537.0 372" stroke="#8a8a8e" stroke-width="2.2" fill="none"/>
<path d="M1533.0 425 Q1538.0 395 1549.0 372" stroke="#8a8a8e" stroke-width="2.2" fill="none"/>
<path d="M1546 391 L1580 397 L1580 420 L1546 421 Z" fill="#3c3c3e"/>
<rect x="1558" y="398" width="14" height="9" fill="#77777a"/>
<path d="M1503 338 Q1512 350 1506 372 L1516 372 Q1520 350 1512 338 Z" fill="#151517"/>
<path d="M1514 441 L1524 438 L1557 466 L1552 474 L1518 452 Z" fill="#242426"/>
<path d="M1530 430 Q1536 440 1522 444" stroke="#242426" stroke-width="4" fill="none"/>
<polygon points="1483.8,247.4 1559.6,262.6 1561.5,257.8 1571.0,260.7 1569.1,289.1 1569.1,306.2 1559.6,313.8 1552.0,346.0 1540.6,344.1 1517.9,336.5 1478.1,327.0 1481.9,291.0 1473.3,285.3 1473.3,275.8 1476.2,274.0" fill="#3e3c3a" stroke="#3e3c3a" stroke-width="2" stroke-linejoin="round"/>
<polygon points="1553.0,290.0 1569.0,290.0 1569.0,306.0 1559.6,313.8 1552.0,346.0 1541.0,343.0" fill="#b2b2ba" />
<polygon points="1559.6,263.5 1570.0,261.5 1568.5,289.0 1553.0,289.0" fill="#4c4a48" />
<polygon points="1478.5,322.0 1552.0,340.0 1552.0,346.0 1478.1,328.0" fill="#8c8480" />
<path d="M1996.1 231.2 C2004.1 222.4 2005.4 222.3 2015.7 217.7 C2026.0 213.1 2027.6 212.2 2040.2 211.6 C2052.8 211.0 2057.5 210.2 2069.5 215.3 C2081.5 220.4 2083.0 223.1 2091.6 233.6 C2100.2 244.1 2101.6 247.9 2106.2 260.5 C2110.8 273.1 2111.1 275.4 2111.1 287.4 C2111.1 299.4 2110.8 302.2 2106.2 311.9 C2101.6 321.6 2100.2 322.1 2091.6 329.0 C2083.0 335.9 2075.8 335.0 2069.5 341.3 C2063.2 347.6 2065.7 344.5 2064.6 355.9 C2063.5 367.3 2064.9 375.4 2064.6 390.2 C2064.3 405.0 2065.7 405.2 2063.4 419.5 C2061.1 433.8 2059.2 435.3 2054.9 451.3 C2050.6 467.3 2049.7 474.3 2045.1 488.0 C2040.5 501.7 2045.6 504.4 2035.3 510.1 C2025.0 515.8 2014.7 514.2 2001.0 512.5 C1987.3 510.8 1989.2 506.7 1976.6 502.7 C1964.0 498.7 1955.2 501.1 1947.2 495.4 C1939.2 489.7 1942.9 486.9 1942.3 478.3 C1941.7 469.7 1942.5 467.8 1944.8 458.7 C1947.1 449.6 1954.4 446.0 1952.1 439.1 C1949.8 432.2 1945.8 434.4 1935.0 429.3 C1924.2 424.2 1917.0 419.4 1905.6 417.1 C1894.2 414.8 1894.7 421.2 1886.1 419.5 C1877.5 417.8 1872.3 416.6 1868.9 409.8 C1865.5 403.0 1867.4 400.5 1871.4 390.2 C1875.4 379.9 1879.8 376.0 1886.1 365.7 C1892.4 355.4 1893.2 352.4 1898.3 346.1 C1903.4 339.8 1895.5 342.8 1908.1 338.8 C1920.7 334.8 1940.7 334.7 1952.1 329.0 C1963.5 323.3 1953.6 324.0 1957.0 314.3 C1960.4 304.6 1961.1 301.1 1966.8 287.4 C1972.5 273.7 1974.7 268.7 1981.5 255.6 C1988.3 242.5 1988.1 240.0 1996.1 231.2Z" fill="url(#gHam)" />
<polygon points="1996.1,231.2 1981.5,255.6 1966.8,287.4 1957.0,314.3 1952.1,329.0 1970.0,333.0 1976.0,318.0 1986.0,292.0 1999.0,263.0 2012.0,240.0" fill="#6b6b6a" />
<polygon points="1871.0,392.0 1886.0,366.0 1899.0,346.0 1940.0,338.0 1930.0,360.0 1922.0,420.0 1905.6,417.1 1886.1,419.5 1868.9,409.8" fill="#242422" />
<polygon points="1900.0,338.0 1952.0,326.0 1954.0,334.0 1906.0,350.0" fill="#333331" />
<circle cx="1976.6" cy="405" r="38" fill="#5a5a58"/><circle cx="1976.6" cy="405" r="38" fill="none" stroke="#2e2e2c" stroke-width="3"/>
<path d="M1960 372 l32 -6 l8 30 l-30 10 z" fill="#3a3a38"/>
<circle cx="1965" cy="408" r="9" fill="#8a8a8c"/><circle cx="1965" cy="408" r="5" fill="#2a2a2a"/>
<path d="M2013 300 Q2056 330 2061 392" stroke="#c8c8cc" stroke-width="2.5" fill="none"/>
<path d="M1998 452 Q2030 440 2036 400" stroke="#2c2c2a" stroke-width="4" fill="none"/>
<path d="M1982 290 L1996 258 Q2016 246 2032 262 Q2040 282 2026 298 Q2008 302 2000 290 Z" fill="#0e0e10"/>
<path d="M1954 478 L1974 470 L1978 500 L1950 494 Z" fill="#6a6458" opacity="0.7"/>
<path d="M1535.5 730 Q1522 731 1522 743.6 Q1523 757 1536.7 757.5 L1573.4 762 L1695.7 776.6 L1805.8 784 L1826 787.5 Q1840 786 1840 773 Q1838 760 1825 759 L1805.8 764.4 L1695.7 753.4 L1544 732.6 Z" fill="url(#gBar)"/>
<circle cx="1535.5" cy="743.6" r="6" fill="#8a868c"/><circle cx="1535.5" cy="743.6" r="3" fill="#2e2c30"/>
<polygon points="1815.6,763.2 1822.9,728.9 1830.3,714.3 1842.5,706.9 1859.6,704.5 1862.1,709.4 1852.3,716.7 1854.7,724.0 1852.3,738.7 1845.0,753.4 1840.0,765.6 1840.0,777.9 1826.0,787.0 1814.0,779.0" fill="#a88474" stroke="#a88474" stroke-width="1.5" stroke-linejoin="round"/>
<path d="M1827 722 L1856 729" stroke="#5c5458" stroke-width="4"/>
<circle cx="1826" cy="773.5" r="8" fill="#c0a090"/><circle cx="1827" cy="774" r="4.5" fill="#3a3234"/>
<line x1="1458.7" y1="208.7" x2="1515.8" y2="252.7" stroke="#262223" stroke-width="3.6" stroke-linecap="butt"/>
<line x1="1387.8" y1="252.7" x2="1468.5" y2="283.5" stroke="#262223" stroke-width="3.6" stroke-linecap="butt"/>
<line x1="1647.0" y1="269.0" x2="1566.3" y2="262.5" stroke="#262223" stroke-width="3.6" stroke-linecap="butt"/>
<line x1="1355.0" y1="364.2" x2="1395.7" y2="375.4" stroke="#262223" stroke-width="3.6" stroke-linecap="butt"/>
<line x1="1889.7" y1="211.6" x2="1938.7" y2="330.2" stroke="#262223" stroke-width="3.6" stroke-linecap="butt"/>
<line x1="2119.7" y1="185.9" x2="2076.9" y2="227.5" stroke="#262223" stroke-width="3.6" stroke-linecap="butt"/>
<line x1="2179.6" y1="224.3" x2="2043.9" y2="266.6" stroke="#262223" stroke-width="3.6" stroke-linecap="butt"/>
<line x1="1798.0" y1="293.3" x2="1870.2" y2="391.4" stroke="#262223" stroke-width="3.6" stroke-linecap="butt"/>
<line x1="2167.4" y1="318.0" x2="2013.3" y2="358.4" stroke="#262223" stroke-width="3.6" stroke-linecap="butt"/>
<line x1="1782.9" y1="387.2" x2="1868.9" y2="414.6" stroke="#262223" stroke-width="3.6" stroke-linecap="butt"/>
<line x1="2154.0" y1="453.8" x2="2002.3" y2="406.1" stroke="#262223" stroke-width="3.6" stroke-linecap="butt"/>
<line x1="1412.0" y1="798.6" x2="1536.8" y2="742.8" stroke="#262223" stroke-width="3.6" stroke-linecap="butt"/>
<line x1="1742.2" y1="690.3" x2="1830.8" y2="774.3" stroke="#262223" stroke-width="3.6" stroke-linecap="butt"/>
<line x1="1962.0" y1="675.9" x2="1857.0" y2="708.7" stroke="#262223" stroke-width="3.6" stroke-linecap="butt"/>
<line x1="2004.7" y1="735.0" x2="1860.3" y2="727.7" stroke="#262223" stroke-width="3.6" stroke-linecap="butt"/>
<line x1="1971.9" y1="805.2" x2="1847.2" y2="733.0" stroke="#262223" stroke-width="3.6" stroke-linecap="butt"/>
<line x1="1909.5" y1="864.2" x2="1840.6" y2="775.6" stroke="#262223" stroke-width="3.6" stroke-linecap="butt"/>
<line x1="2043.9" y1="266.6" x2="2024.3" y2="272.8" stroke="#f4f4f4" stroke-width="3.6" stroke-linecap="butt"/>
<line x1="2013.3" y1="358.4" x2="1986.4" y2="365.7" stroke="#f4f4f4" stroke-width="3.6" stroke-linecap="butt"/>
<text x="1418.7" y="203.5" font-size="19.5" font-weight="bold" font-style="normal" fill="#1d1a1b" stroke="#1d1a1b" stroke-width="0.45" textLength="54.3" lengthAdjust="spacingAndGlyphs">Носик</text>
<text x="1330.7" y="249.0" font-size="19.5" font-weight="bold" font-style="normal" fill="#1d1a1b" stroke="#1d1a1b" stroke-width="0.45" textLength="68.9" lengthAdjust="spacingAndGlyphs">Выступ</text>
<text x="1652.0" y="277.3" font-size="19.5" font-weight="bold" font-style="normal" fill="#1d1a1b" stroke="#1d1a1b" stroke-width="0.45" textLength="32.0" lengthAdjust="spacingAndGlyphs">Зуб</text>
<text x="1290.7" y="368.0" font-size="19.5" font-weight="bold" font-style="normal" fill="#1d1a1b" stroke="#1d1a1b" stroke-width="0.45" textLength="63.0" lengthAdjust="spacingAndGlyphs">Цапфа</text>
<text x="1781.6" y="187.0" font-size="19.5" font-weight="bold" font-style="normal" fill="#1d1a1b" stroke="#1d1a1b" stroke-width="0.45" textLength="195.4" lengthAdjust="spacingAndGlyphs">Предохранительный</text>
<text x="1852.4" y="208.0" font-size="19.5" font-weight="bold" font-style="normal" fill="#1d1a1b" stroke="#1d1a1b" stroke-width="0.45" textLength="55.2" lengthAdjust="spacingAndGlyphs">взвод</text>
<text x="2078.0" y="157.7" font-size="19.5" font-weight="bold" font-style="normal" fill="#1d1a1b" stroke="#1d1a1b" stroke-width="0.45" textLength="73.6" lengthAdjust="spacingAndGlyphs">Головка</text>
<text x="2061.6" y="177.0" font-size="19.5" font-weight="bold" font-style="normal" fill="#1d1a1b" stroke="#1d1a1b" stroke-width="0.45" textLength="103.4" lengthAdjust="spacingAndGlyphs">с насечкой</text>
<text x="2163.2" y="216.2" font-size="19.5" font-weight="bold" font-style="normal" fill="#1d1a1b" stroke="#1d1a1b" stroke-width="0.45" textLength="59.4" lengthAdjust="spacingAndGlyphs">Вырез</text>
<text x="1760.0" y="266.0" font-size="19.5" font-weight="bold" font-style="normal" fill="#1d1a1b" stroke="#1d1a1b" stroke-width="0.45" textLength="67.5" lengthAdjust="spacingAndGlyphs">Боевой</text>
<text x="1766.5" y="287.0" font-size="19.5" font-weight="bold" font-style="normal" fill="#1d1a1b" stroke="#1d1a1b" stroke-width="0.45" textLength="54.5" lengthAdjust="spacingAndGlyphs">взвод</text>
<text x="2172.4" y="308.0" font-size="19.5" font-weight="bold" font-style="normal" fill="#1d1a1b" stroke="#1d1a1b" stroke-width="0.45" textLength="96.1" lengthAdjust="spacingAndGlyphs">Выем для</text>
<text x="2186.3" y="332.5" font-size="19.5" font-weight="bold" font-style="normal" fill="#1d1a1b" stroke="#1d1a1b" stroke-width="0.45" textLength="68.3" lengthAdjust="spacingAndGlyphs">зацепа</text>
<text x="2139.0" y="357.0" font-size="19.5" font-weight="bold" font-style="normal" fill="#1d1a1b" stroke="#1d1a1b" stroke-width="0.45" textLength="160.6" lengthAdjust="spacingAndGlyphs">предохранителя</text>
<text x="1768.4" y="356.0" font-size="19.5" font-weight="bold" font-style="normal" fill="#1d1a1b" stroke="#1d1a1b" stroke-width="0.45" textLength="32.6" lengthAdjust="spacingAndGlyphs">Зуб</text>
<text x="2160.8" y="460.3" font-size="19.5" font-weight="bold" font-style="normal" fill="#1d1a1b" stroke="#1d1a1b" stroke-width="0.45" textLength="61.0" lengthAdjust="spacingAndGlyphs">Цапфа</text>
<text x="1704.8" y="684.5" font-size="19.5" font-weight="bold" font-style="normal" fill="#1d1a1b" stroke="#1d1a1b" stroke-width="0.45" textLength="60.2" lengthAdjust="spacingAndGlyphs">Цапфа</text>
<text x="1954.0" y="664.0" font-size="19.5" font-weight="bold" font-style="normal" fill="#1d1a1b" stroke="#1d1a1b" stroke-width="0.45" textLength="121.6" lengthAdjust="spacingAndGlyphs">Работающий</text>
<text x="1983.7" y="684.5" font-size="19.5" font-weight="bold" font-style="normal" fill="#1d1a1b" stroke="#1d1a1b" stroke-width="0.45" textLength="63.7" lengthAdjust="spacingAndGlyphs">выступ</text>
<text x="2019.8" y="741.5" font-size="19.5" font-weight="bold" font-style="normal" fill="#1d1a1b" stroke="#1d1a1b" stroke-width="0.45" textLength="59.1" lengthAdjust="spacingAndGlyphs">Вырез</text>
<text x="1987.0" y="812.0" font-size="19.5" font-weight="bold" font-style="normal" fill="#1d1a1b" stroke="#1d1a1b" stroke-width="0.45" textLength="68.9" lengthAdjust="spacingAndGlyphs">Выступ</text>
<text x="1965.3" y="832.5" font-size="19.5" font-weight="bold" font-style="normal" fill="#1d1a1b" stroke="#1d1a1b" stroke-width="0.45" textLength="111.6" lengthAdjust="spacingAndGlyphs">самовзвода</text>
<text x="1875.4" y="884.3" font-size="19.5" font-weight="bold" font-style="normal" fill="#1d1a1b" stroke="#1d1a1b" stroke-width="0.45" textLength="74.8" lengthAdjust="spacingAndGlyphs">Пяточка</text>
<text x="1369.4" y="819.0" font-size="19.5" font-weight="bold" font-style="normal" fill="#1d1a1b" stroke="#1d1a1b" stroke-width="0.45" textLength="63.0" lengthAdjust="spacingAndGlyphs">Цапфа</text>
<text x="1727.0" y="378.5" font-size="19.5" font-weight="bold" font-style="italic" fill="#1d1a1b" stroke="#1d1a1b" stroke-width="0.45" textLength="111.7" lengthAdjust="spacingAndGlyphs">самовзвода</text>
<text x="416.0" y="979.0" font-size="25.0" font-weight="bold" font-style="normal" fill="#1d1a1b" stroke="#1d1a1b" stroke-width="0.45" textLength="169.7" lengthAdjust="spacingAndGlyphs">ВОЗВРАТНАЯ</text>
<text x="612.7" y="979.0" font-size="25.0" font-weight="bold" font-style="normal" fill="#1d1a1b" stroke="#1d1a1b" stroke-width="0.45" textLength="127.3" lengthAdjust="spacingAndGlyphs">ПРУЖИНА</text>
<text x="110.4" y="1264.2" font-size="25.0" font-weight="bold" font-style="normal" fill="#1d1a1b" stroke="#1d1a1b" stroke-width="0.45" textLength="134.7" lengthAdjust="spacingAndGlyphs">РАМКА СО</text>
<text x="98.0" y="1291.8" font-size="25.0" font-weight="bold" font-style="normal" fill="#1d1a1b" stroke="#1d1a1b" stroke-width="0.45" textLength="158.2" lengthAdjust="spacingAndGlyphs">СТВОЛОМ И</text>
<text x="97.2" y="1319.3" font-size="25.0" font-weight="bold" font-style="normal" fill="#1d1a1b" stroke="#1d1a1b" stroke-width="0.45" textLength="159.0" lengthAdjust="spacingAndGlyphs">СПУСКОВОЙ</text>
<text x="125.3" y="1346.9" font-size="25.0" font-weight="bold" font-style="normal" fill="#1d1a1b" stroke="#1d1a1b" stroke-width="0.45" textLength="106.2" lengthAdjust="spacingAndGlyphs">СКОБОЙ</text>
<text x="1038.4" y="1305.5" font-size="25.0" font-weight="bold" font-style="normal" fill="#1d1a1b" stroke="#1d1a1b" stroke-width="0.45" textLength="102.4" lengthAdjust="spacingAndGlyphs">БОЕВАЯ</text>
<text x="1027.0" y="1332.5" font-size="25.0" font-weight="bold" font-style="normal" fill="#1d1a1b" stroke="#1d1a1b" stroke-width="0.45" textLength="126.5" lengthAdjust="spacingAndGlyphs">ПРУЖИНА</text>
<text x="147.7" y="1520.4" font-size="25.0" font-weight="bold" font-style="normal" fill="#1d1a1b" stroke="#1d1a1b" stroke-width="0.45" textLength="152.9" lengthAdjust="spacingAndGlyphs">ЗАТВОРНАЯ</text>
<text x="154.5" y="1546.7" font-size="25.0" font-weight="bold" font-style="normal" fill="#1d1a1b" stroke="#1d1a1b" stroke-width="0.45" textLength="142.2" lengthAdjust="spacingAndGlyphs">ЗАДЕРЖКА</text>
<text x="441.3" y="1523.4" font-size="25.0" font-weight="bold" font-style="normal" fill="#1d1a1b" stroke="#1d1a1b" stroke-width="0.45" textLength="158.1" lengthAdjust="spacingAndGlyphs">СПУСКОВОЙ</text>
<text x="466.4" y="1551.0" font-size="25.0" font-weight="bold" font-style="normal" fill="#1d1a1b" stroke="#1d1a1b" stroke-width="0.45" textLength="110.7" lengthAdjust="spacingAndGlyphs">КРЮЧОК</text>
<path d="M293.2 1064.0 C293.6 1039.2 300.2 997.5 307.5 997.5 C314.8 997.5 321.4 1039.2 325.8 1067.0 C330.2 1039.2 336.8 997.5 344.1 997.5 C351.4 997.5 358.0 1039.2 362.4 1067.0 C366.8 1039.2 373.4 997.5 380.7 997.5 C388.0 997.5 394.6 1039.2 399.0 1067.0 C403.4 1039.2 410.0 997.5 417.3 997.5 C424.6 997.5 431.2 1039.2 435.6 1067.0 C440.0 1039.2 446.6 997.5 453.9 997.5 C461.2 997.5 467.8 1039.2 472.2 1067.0 C476.6 1039.2 483.2 997.5 490.5 997.5 C497.8 997.5 504.4 1039.2 508.8 1067.0 C513.2 1039.2 519.8 997.5 527.1 997.5 C534.4 997.5 541.0 1039.2 545.4 1067.0 C549.8 1039.2 556.4 997.5 563.7 997.5 C571.0 997.5 577.6 1039.2 582.0 1067.0 C586.4 1039.2 593.0 997.5 600.3 997.5 C607.6 997.5 614.2 1039.2 618.6 1067.0 C623.0 1039.2 629.6 997.5 636.9 997.5 C644.2 997.5 650.8 1039.2 655.2 1067.0 C659.6 1039.2 666.2 997.5 673.5 997.5 C680.8 997.5 687.4 1039.2 691.8 1067.0 C696.2 1039.2 702.8 997.5 710.1 997.5 C717.4 997.5 724.0 1039.2 728.4 1067.0 C732.8 1039.2 739.4 997.5 746.7 997.5 C754.0 997.5 760.6 1039.2 765.0 1067.0 C769.4 1039.2 776.0 997.5 783.3 997.5 C790.6 997.5 797.2 1039.2 801.6 1067.0 C806.0 1039.2 812.6 997.5 819.9 997.5 C827.2 997.5 833.8 1039.2 838.2 1067.0 C842.6 1039.2 849.2 997.5 856.5 997.5 " stroke="#5e5656" stroke-width="3.6" fill="none" stroke-linejoin="round"/>
<path d="M296.0 1002.0 q-6 30 -2 60 M303.0 1000.0 q-5 32 0 62" stroke="#5e5656" stroke-width="3" fill="none"/>
<ellipse cx="852.5" cy="1036" rx="9.5" ry="31" fill="none" stroke="#5e5656" stroke-width="3.2"/>
<path d="M856.5 997.5 q8 6 6 40" stroke="#5e5656" stroke-width="3" fill="none"/>
<rect x="151" y="1142" width="356" height="63" rx="7" fill="url(#gBarrel)"/>
<rect x="501" y="1137.7" width="113.5" height="62" rx="3" fill="url(#gChamber)"/>
<rect x="585" y="1140" width="26" height="58" fill="#7c7c80" opacity="0.6"/>
<polygon points="280.3,1237.2 293.8,1231.9 498.3,1231.9 503.7,1199.6 616.7,1199.6 638.2,1207.6 644.7,1238.9 659.7,1248.0 678.6,1237.2 762.0,1231.9 766.3,1215.7 818.5,1214.1 823.9,1223.8 867.0,1224.9 870.7,1199.6 907.3,1199.6 926.2,1222.7 928.8,1234.6 950.4,1241.0 956.8,1283.0 942.3,1296.4 893.9,1325.0 883.1,1342.2 864.3,1347.6 832.7,1337.1 811.6,1332.9 807.3,1343.5 811.6,1406.9 822.1,1491.6 827.4,1493.7 828.5,1542.3 824.2,1544.4 827.4,1559.2 834.8,1637.5 839.1,1648.1 845.4,1703.1 840.1,1734.8 701.5,1730.6 693.1,1705.2 684.6,1694.6 678.3,1639.6 669.8,1576.2 661.3,1512.7 648.7,1449.2 625.4,1411.2 608.6,1401.4 616.7,1353.0 600.5,1315.3 568.2,1299.1 422.9,1261.5 285.7,1248.0" fill="url(#gFrame)" stroke="#555863" stroke-width="1.5" stroke-linejoin="round"/>
<g clip-path="url(#cFrame)">
<polygon points="678.6,1237.2 762.0,1231.9 766.3,1215.7 818.5,1214.1 823.9,1223.8 867.0,1224.9 928.8,1234.6 950.4,1241.0 956.8,1283.0 942.3,1296.4 891.2,1315.3 810.4,1312.6 686.7,1280.3" fill="#3e4049" />
<polygon points="870.7,1199.6 907.3,1199.6 926.2,1222.7 867.0,1224.9" fill="#26272c" />
<polygon points="885.8,1304.5 956.8,1283.0 942.3,1296.4 893.9,1325.0 883.1,1342.2 864.3,1347.6 818.5,1328.7" fill="#33353c" />
<polygon points="821.2,1328.7 867.0,1328.7 864.3,1344.9 821.2,1332.5" fill="#1c1d22" />
<polygon points="503.7,1199.6 616.7,1199.6 638.2,1207.6 644.7,1238.9 509.0,1234.6" fill="#4e505a" />
<polygon points="693.1,1709.4 845.4,1711.6 840.1,1734.8 701.5,1730.6" fill="#70727c" />
<polygon points="786.2,1648.1 834.8,1647.0 839.1,1648.1 845.4,1703.1 843.3,1711.6 790.4,1711.6" fill="#62646e" />
<path d="M661.3 1415.4 C664.5 1419.6 675.8 1431.6 680.4 1440.8 C685.0 1449.9 686.4 1454.9 688.9 1470.4 C691.3 1485.9 693.1 1512.7 695.2 1533.9 C697.3 1555.0 699.3 1580.4 701.5 1597.3 C703.8 1614.3 705.1 1625.2 708.9 1635.4 C712.8 1645.6 722.2 1654.8 724.8 1658.7" stroke="#777984" stroke-width="7" fill="none"/>
<polygon points="807.3,1325.5 866.6,1325.5 864.4,1343.5 811.6,1341.3" fill="#24252a" />
<polygon points="379.9,1261.5 568.2,1300.2 600.5,1316.4 605.9,1336.8 476.7,1293.8 379.9,1274.9" fill="#3c3e46" />
</g>
<circle cx="537.0" cy="1224.9" r="9" fill="#fbfbfb"/>
<circle cx="801.3" cy="1229.2" r="5" fill="#fbfbfb"/>
<path d="M652.9 1349.8 C654.6 1339.7 657.1 1339.9 663.5 1335.0 C669.8 1330.1 671.9 1328.0 684.6 1325.5 C697.3 1322.9 710.9 1322.3 726.9 1322.3 C743.0 1322.3 754.4 1323.4 765.0 1325.5 C775.6 1327.6 776.4 1329.3 779.8 1332.9 C783.2 1336.5 780.7 1328.7 781.9 1343.5 C783.2 1358.3 783.6 1381.5 786.2 1406.9 C788.7 1432.3 791.2 1445.0 794.6 1470.4 C798.0 1495.8 800.8 1516.5 803.1 1533.9 C805.4 1551.2 804.1 1552.5 806.3 1557.1 C808.4 1561.8 811.8 1549.1 813.7 1557.1 C815.6 1565.2 814.3 1581.7 815.8 1597.3 C817.3 1613.0 820.0 1625.7 821.1 1635.4 C822.1 1645.1 828.1 1643.4 821.1 1646.0 C814.1 1648.5 794.0 1646.0 786.2 1648.1 C778.3 1650.2 785.3 1652.8 781.9 1656.6 C778.5 1660.4 776.0 1664.2 769.2 1667.1 C762.5 1670.1 755.7 1671.8 748.1 1671.4 C740.5 1670.9 736.7 1668.8 731.2 1665.0 C725.7 1661.2 724.4 1659.1 720.6 1652.3 C716.8 1645.6 715.1 1642.2 712.1 1631.2 C709.2 1620.2 708.3 1616.8 705.8 1597.3 C703.2 1577.9 702.0 1559.2 699.4 1533.9 C696.9 1508.5 696.0 1489.4 693.1 1470.4 C690.1 1451.4 690.5 1450.5 684.6 1438.7 C678.7 1426.8 669.4 1421.7 663.5 1411.2 C657.5 1400.6 657.1 1398.0 655.0 1385.8 C652.9 1373.5 651.2 1360.0 652.9 1349.8Z" fill="#fbfbfb" />
<path d="M331.4 1336.8 C332.8 1342.2 336.4 1358.3 339.5 1369.1 C342.6 1379.9 346.2 1390.6 350.3 1401.4 C354.3 1412.2 357.9 1423.8 363.7 1433.7 C369.6 1443.6 376.3 1453.0 385.3 1460.6 C394.2 1468.2 406.8 1474.8 417.5 1479.4 C428.3 1484.1 434.6 1487.6 449.8 1488.6 C465.1 1489.6 490.2 1487.2 509.0 1485.4 C527.9 1483.6 549.9 1482.0 562.9 1477.8 C575.9 1473.7 580.4 1467.5 587.1 1460.6 C593.8 1453.7 599.0 1443.6 603.2 1436.4 C607.4 1429.2 610.9 1420.7 612.4 1417.5 L597.8 1414.9 C595.6 1418.9 590.7 1431.6 584.4 1439.1 C578.1 1446.5 572.7 1454.7 560.2 1459.5 C547.6 1464.4 527.4 1465.8 509.0 1468.1 C490.7 1470.5 465.1 1473.7 449.8 1473.5 C434.6 1473.3 427.0 1470.6 417.5 1467.1 C408.1 1463.6 400.1 1458.5 393.3 1452.5 C386.6 1446.5 381.4 1439.1 377.2 1431.0 C373.0 1422.9 369.4 1412.6 368.0 1404.1 C366.7 1395.6 367.1 1387.5 369.1 1379.9 C371.1 1372.2 374.5 1365.5 379.9 1358.3 C385.3 1351.2 393.3 1343.5 401.4 1336.8 C409.5 1330.1 421.1 1322.3 428.3 1318.0 C435.5 1313.7 441.8 1312.1 444.5 1311.0 L468.7 1314.2 L471.4 1327.1 L487.5 1326.0 L483.2 1298.1 L455.2 1283.0 L447.1 1264.2 L438.0 1264.2 L433.7 1292.7 L393.3 1315.3Z" fill="#80828c" stroke="#80828c" stroke-width="1.2" stroke-linejoin="round"/>
<polygon points="332.5,1337.9 393.3,1316.4 433.7,1293.8 425.1,1313.1 390.6,1332.5 360.5,1353.0 348.7,1385.3" fill="#92949c" />
<polygon points="594.1,1401.4 616.7,1407.9 623.1,1444.5 597.8,1436.4" fill="#4c4e57" />
<path d="M190.5 1711.2 C199.7 1706.1 204.9 1716.5 222.6 1717.6 C240.3 1718.8 240.9 1719.5 256.9 1715.5 C272.9 1711.5 271.7 1711.8 282.6 1702.6 C293.4 1693.5 292.4 1694.9 297.6 1681.2 C302.7 1667.5 299.6 1661.5 301.8 1651.3 C304.1 1641.0 301.6 1644.4 306.1 1642.7 C310.7 1641.0 313.8 1640.3 319.0 1644.8 C324.1 1649.4 322.5 1650.1 325.4 1659.8 C328.2 1669.5 321.7 1670.9 329.7 1681.2 C337.7 1691.5 345.1 1685.8 355.4 1698.3 C365.6 1710.9 364.8 1713.5 368.2 1728.3 C371.6 1743.2 372.8 1742.6 368.2 1754.0 C363.6 1765.4 363.6 1765.4 351.1 1771.1 C338.5 1776.8 335.9 1777.1 321.1 1775.4 C306.3 1773.7 310.3 1767.6 295.4 1764.7 C280.6 1761.9 282.6 1764.1 265.4 1764.7 C248.3 1765.3 247.2 1769.7 231.2 1766.9 C215.2 1764.0 216.9 1762.0 205.5 1754.0 C194.1 1746.0 192.4 1748.3 188.4 1736.9 C184.4 1725.5 181.4 1716.3 190.5 1711.2Z" fill="#6e727c" />
<circle cx="329.7" cy="1724.0" r="11.5" fill="#fbfbfb"/>
<path d="M128.4 1681.2 C142.4 1682.1 178.5 1690.6 190.5 1698.3 C202.5 1706.1 191.8 1710.8 188.4 1719.8 C185.0 1728.7 180.7 1739.9 173.4 1743.3 C166.1 1746.7 162.7 1741.6 152.0 1736.9 C141.3 1732.2 126.1 1728.3 119.9 1719.8 C113.6 1711.2 119.0 1701.8 120.7 1694.1 C122.4 1686.4 114.5 1680.4 128.4 1681.2Z" fill="#2c2e36" />
<polygon points="128.4,1683.4 188.4,1699.2 186.7,1711.2 126.7,1694.1" fill="#4a4e5a" />
<path d="M520.2 1572.0 C518.2 1582.2 521.7 1591.0 520.2 1608.4 C518.7 1625.9 516.3 1635.0 513.8 1647.0 C511.3 1659.0 506.5 1651.8 509.5 1659.8 C512.5 1667.8 518.1 1669.2 526.6 1681.2 C535.1 1693.2 539.9 1696.2 545.9 1711.2 C551.9 1726.2 552.8 1729.5 552.3 1745.4 C551.8 1761.4 548.2 1767.2 543.7 1779.7 C539.2 1792.2 533.5 1793.5 533.0 1799.0 C532.5 1804.5 535.1 1807.7 541.6 1803.2 C548.1 1798.7 553.9 1793.2 560.9 1779.7 C567.9 1766.2 570.1 1761.4 571.6 1745.4 C573.1 1729.5 570.8 1726.2 567.3 1711.2 C563.8 1696.2 560.1 1691.2 556.6 1681.2 C553.1 1671.2 549.3 1675.4 552.3 1668.4 C555.3 1661.4 564.4 1661.2 569.4 1651.3 C574.4 1641.3 574.7 1633.6 573.7 1625.6 C572.7 1617.6 570.6 1618.5 565.1 1617.0 C559.6 1615.5 554.2 1621.1 550.2 1619.1 C546.2 1617.1 548.0 1618.9 548.0 1608.4 C548.0 1598.0 551.7 1584.2 550.2 1574.2 C548.7 1564.2 546.6 1567.8 541.6 1565.6 C536.6 1563.4 533.7 1563.3 528.7 1564.8 C523.8 1566.3 522.2 1561.9 520.2 1572.0Z" fill="#26262c" />
<circle cx="537.3" cy="1579.3" r="4.5" fill="#e8e8ea"/>
<circle cx="527.5" cy="1627.7" r="9" fill="#17171b"/>
<path d="M1087.2 1386.8 C1082.3 1390.1 1067.2 1397.1 1057.6 1406.5 C1047.9 1415.9 1036.6 1431.0 1029.3 1443.2 C1022.1 1455.4 1017.1 1466.7 1013.8 1479.9 C1010.5 1493.1 1010.3 1515.2 1009.6 1522.2" stroke="#6c6a7c" stroke-width="4.2" fill="none" stroke-linecap="round"/>
<path d="M1108.4 1361.4 C1107.5 1363.2 1103.1 1369.1 1103.3 1372.7 C1103.5 1376.2 1109.9 1379.0 1109.8 1382.5 C1109.7 1386.1 1108.6 1388.9 1102.7 1393.8 C1096.9 1398.8 1083.9 1403.0 1074.5 1412.2 C1065.1 1421.3 1053.8 1436.6 1046.3 1448.9 C1038.8 1461.1 1033.8 1472.9 1029.3 1485.6 C1024.9 1498.3 1021.1 1518.5 1019.5 1525.1" stroke="#6c6a7c" stroke-width="4.2" fill="none" stroke-linecap="round"/>
<path d="M1014.7 1522.2 C1014.3 1529.3 1011.8 1550.9 1012.4 1564.6 C1013.0 1578.2 1016.6 1587.6 1018.1 1604.1 C1019.5 1620.6 1020.6 1646.4 1020.9 1663.4 C1021.1 1680.3 1020.5 1694.9 1019.5 1705.7 C1018.4 1716.5 1015.5 1724.5 1014.7 1728.3" stroke="#5c5a6a" stroke-width="7" fill="none" stroke-linecap="round"/>
<path d="M1012.4 1530.7 C1012.3 1536.4 1011.3 1553.3 1011.8 1564.6 C1012.4 1575.9 1015.1 1592.8 1015.8 1598.5" stroke="#3c3a46" stroke-width="9" fill="none" stroke-linecap="round"/>
<path d="M1014.7 1728.3 C1012.6 1732.5 1008.5 1739.0 1009.0 1745.2 C1009.6 1751.4 1014.1 1762.7 1018.1 1765.5 C1022.0 1768.4 1028.9 1765.5 1032.7 1762.2 C1036.6 1758.8 1041.7 1750.9 1041.2 1745.2 C1040.7 1739.6 1033.2 1732.5 1029.9 1728.3 C1026.6 1724.1 1024.0 1719.8 1021.4 1719.8 C1018.9 1719.8 1016.7 1724.1 1014.7 1728.3Z" stroke="#5c5a6a" stroke-width="5.5" fill="none"/>
<line x1="134.9" y1="1108.8" x2="171.0" y2="1147.3" stroke="#262223" stroke-width="3.6" stroke-linecap="butt"/>
<line x1="675.9" y1="1141.0" x2="633.5" y2="1199.0" stroke="#262223" stroke-width="3.6" stroke-linecap="butt"/>
<line x1="776.8" y1="1157.4" x2="662.8" y2="1243.7" stroke="#262223" stroke-width="3.6" stroke-linecap="butt"/>
<line x1="272.2" y1="1433.7" x2="363.7" y2="1422.9" stroke="#262223" stroke-width="3.6" stroke-linecap="butt"/>
<line x1="332.5" y1="1612.4" x2="311.0" y2="1640.9" stroke="#262223" stroke-width="3.6" stroke-linecap="butt"/>
<line x1="444.5" y1="1632.8" x2="538.6" y2="1581.7" stroke="#262223" stroke-width="3.6" stroke-linecap="butt"/>
<line x1="861.6" y1="1565.6" x2="818.5" y2="1514.4" stroke="#262223" stroke-width="3.6" stroke-linecap="butt"/>
<line x1="85.6" y1="1614.9" x2="152.0" y2="1685.5" stroke="#262223" stroke-width="3.6" stroke-linecap="butt"/>
<line x1="81.3" y1="1781.8" x2="139.0" y2="1724.0" stroke="#262223" stroke-width="3.6" stroke-linecap="butt"/>
<line x1="460.0" y1="1784.8" x2="535.0" y2="1799.0" stroke="#262223" stroke-width="3.6" stroke-linecap="butt"/>
<line x1="1017.2" y1="1391.0" x2="1056.2" y2="1406.5" stroke="#262223" stroke-width="3.6" stroke-linecap="butt"/>
<line x1="1167.6" y1="1403.0" x2="1108.4" y2="1367.0" stroke="#262223" stroke-width="3.6" stroke-linecap="butt"/>
<line x1="1135.2" y1="1492.6" x2="1046.3" y2="1448.3" stroke="#262223" stroke-width="3.6" stroke-linecap="butt"/>
<line x1="956.0" y1="1767.8" x2="1008.2" y2="1750.3" stroke="#262223" stroke-width="3.6" stroke-linecap="butt"/>
<text x="102.5" y="1098.5" font-size="19.5" font-weight="bold" font-style="normal" fill="#1d1a1b" stroke="#1d1a1b" stroke-width="0.45" textLength="55.5" lengthAdjust="spacingAndGlyphs">Ствол</text>
<text x="655.0" y="1134.5" font-size="19.5" font-weight="bold" font-style="normal" fill="#1d1a1b" stroke="#1d1a1b" stroke-width="0.45" textLength="41.0" lengthAdjust="spacingAndGlyphs">Скос</text>
<text x="763.0" y="1127.5" font-size="19.5" font-weight="bold" font-style="normal" fill="#1d1a1b" stroke="#1d1a1b" stroke-width="0.45" textLength="52.4" lengthAdjust="spacingAndGlyphs">Вырез</text>
<text x="699.8" y="1151.0" font-size="19.5" font-weight="bold" font-style="normal" fill="#1d1a1b" stroke="#1d1a1b" stroke-width="0.45" textLength="174.9" lengthAdjust="spacingAndGlyphs">затворной задержки</text>
<text x="184.1" y="1422.3" font-size="19.5" font-weight="bold" font-style="normal" fill="#1d1a1b" stroke="#1d1a1b" stroke-width="0.45" textLength="96.9" lengthAdjust="spacingAndGlyphs">Спусковая</text>
<text x="206.3" y="1443.0" font-size="19.5" font-weight="bold" font-style="normal" fill="#1d1a1b" stroke="#1d1a1b" stroke-width="0.45" textLength="52.5" lengthAdjust="spacingAndGlyphs">скоба</text>
<text x="281.4" y="1607.0" font-size="19.5" font-weight="bold" font-style="normal" fill="#1d1a1b" stroke="#1d1a1b" stroke-width="0.45" textLength="113.0" lengthAdjust="spacingAndGlyphs">Отражатель</text>
<text x="384.3" y="1653.0" font-size="19.5" font-weight="bold" font-style="normal" fill="#1d1a1b" stroke="#1d1a1b" stroke-width="0.45" textLength="97.5" lengthAdjust="spacingAndGlyphs">Отверстие</text>
<text x="382.9" y="1672.0" font-size="19.5" font-weight="bold" font-style="normal" fill="#1d1a1b" stroke="#1d1a1b" stroke-width="0.45" textLength="98.9" lengthAdjust="spacingAndGlyphs">под цапфу</text>
<text x="837.4" y="1586.0" font-size="19.5" font-weight="bold" font-style="normal" fill="#1d1a1b" stroke="#1d1a1b" stroke-width="0.45" textLength="102.2" lengthAdjust="spacingAndGlyphs">Основание</text>
<text x="845.4" y="1606.0" font-size="19.5" font-weight="bold" font-style="normal" fill="#1d1a1b" stroke="#1d1a1b" stroke-width="0.45" textLength="85.1" lengthAdjust="spacingAndGlyphs">рукоятки</text>
<text x="50.5" y="1607.0" font-size="19.5" font-weight="bold" font-style="normal" fill="#1d1a1b" stroke="#1d1a1b" stroke-width="0.45" textLength="66.0" lengthAdjust="spacingAndGlyphs">Выступ</text>
<text x="50.5" y="1800.0" font-size="19.5" font-weight="bold" font-style="normal" fill="#1d1a1b" stroke="#1d1a1b" stroke-width="0.45" textLength="65.1" lengthAdjust="spacingAndGlyphs">Кнопка</text>
<text x="50.5" y="1817.0" font-size="19.5" font-weight="bold" font-style="normal" fill="#1d1a1b" stroke="#1d1a1b" stroke-width="0.45" textLength="91.5" lengthAdjust="spacingAndGlyphs">с насечкой</text>
<text x="408.0" y="1791.0" font-size="19.5" font-weight="bold" font-style="normal" fill="#1d1a1b" stroke="#1d1a1b" stroke-width="0.45" textLength="48.0" lengthAdjust="spacingAndGlyphs">Хвост</text>
<text x="949.8" y="1384.5" font-size="19.5" font-weight="bold" font-style="normal" fill="#1d1a1b" stroke="#1d1a1b" stroke-width="0.45" textLength="105.5" lengthAdjust="spacingAndGlyphs">Узкое перо</text>
<text x="1128.0" y="1436.5" font-size="19.5" font-weight="bold" font-style="normal" fill="#1d1a1b" stroke="#1d1a1b" stroke-width="0.45" textLength="93.8" lengthAdjust="spacingAndGlyphs">Отбойный</text>
<text x="1147.9" y="1457.0" font-size="19.5" font-weight="bold" font-style="normal" fill="#1d1a1b" stroke="#1d1a1b" stroke-width="0.45" textLength="55.1" lengthAdjust="spacingAndGlyphs">конец</text>
<text x="1071.7" y="1512.5" font-size="19.5" font-weight="bold" font-style="normal" fill="#1d1a1b" stroke="#1d1a1b" stroke-width="0.45" textLength="136.9" lengthAdjust="spacingAndGlyphs">Широкое перо</text>
<text x="907.4" y="1788.0" font-size="19.5" font-weight="bold" font-style="normal" fill="#1d1a1b" stroke="#1d1a1b" stroke-width="0.45" textLength="82.4" lengthAdjust="spacingAndGlyphs">Защелка</text>
<text x="905.0" y="1812.5" font-size="19.5" font-weight="bold" font-style="normal" fill="#1d1a1b" stroke="#1d1a1b" stroke-width="0.45" textLength="86.0" lengthAdjust="spacingAndGlyphs">магазина</text>
<text x="1348.2" y="1024.0" font-size="25.0" font-weight="bold" font-style="normal" fill="#1d1a1b" stroke="#1d1a1b" stroke-width="0.45" textLength="132.1" lengthAdjust="spacingAndGlyphs">РУКОЯТКА</text>
<text x="1694.9" y="1033.0" font-size="25.0" font-weight="bold" font-style="italic" fill="#1d1a1b" stroke="#1d1a1b" stroke-width="0.45" textLength="150.3" lengthAdjust="spacingAndGlyphs">ПОДАВАТЕЛЬ</text>
<text x="2133.7" y="996.8" font-size="25.0" font-weight="bold" font-style="normal" fill="#1d1a1b" stroke="#1d1a1b" stroke-width="0.45" textLength="126.2" lengthAdjust="spacingAndGlyphs">ПРУЖИНА</text>
<text x="2110.5" y="1023.0" font-size="25.0" font-weight="bold" font-style="normal" fill="#1d1a1b" stroke="#1d1a1b" stroke-width="0.45" textLength="171.0" lengthAdjust="spacingAndGlyphs">ПОДАВАТЕЛЯ</text>
<text x="1639.8" y="1159.3" font-size="25.0" font-weight="bold" font-style="normal" fill="#1d1a1b" stroke="#1d1a1b" stroke-width="0.45" textLength="64.4" lengthAdjust="spacingAndGlyphs">ВИНТ</text>
<text x="1718.1" y="1540.8" font-size="25.0" font-weight="bold" font-style="normal" fill="#1d1a1b" stroke="#1d1a1b" stroke-width="0.45" textLength="103.9" lengthAdjust="spacingAndGlyphs">КОРПУС</text>
<text x="1700.4" y="1567.4" font-size="25.0" font-weight="bold" font-style="normal" fill="#1d1a1b" stroke="#1d1a1b" stroke-width="0.45" textLength="139.4" lengthAdjust="spacingAndGlyphs">МАГАЗИНА</text>
<text x="1347.4" y="1624.2" font-size="25.0" font-weight="bold" font-style="normal" fill="#1d1a1b" stroke="#1d1a1b" stroke-width="0.45" textLength="145.4" lengthAdjust="spacingAndGlyphs">ЗАДВИЖКА</text>
<text x="1294.2" y="1651.8" font-size="25.0" font-weight="bold" font-style="normal" fill="#1d1a1b" stroke="#1d1a1b" stroke-width="0.45" textLength="250.1" lengthAdjust="spacingAndGlyphs">БОЕВОЙ ПРУЖИНЫ</text>
<text x="1715.6" y="1690.2" font-size="25.0" font-weight="bold" font-style="italic" fill="#1d1a1b" stroke="#1d1a1b" stroke-width="0.45" textLength="113.4" lengthAdjust="spacingAndGlyphs">КРЫШКА</text>
<text x="1703.5" y="1717.0" font-size="25.0" font-weight="bold" font-style="normal" fill="#1d1a1b" stroke="#1d1a1b" stroke-width="0.45" textLength="137.5" lengthAdjust="spacingAndGlyphs">МАГАЗИНА</text>
<path d="M1302.9 1106.1 C1299.4 1095.5 1294.1 1104.5 1289.7 1116.0 C1285.3 1127.4 1284.7 1129.6 1286.4 1149.0 C1288.2 1168.4 1286.6 1165.7 1296.3 1188.6 C1306.0 1211.5 1313.1 1218.1 1322.8 1234.9 C1332.4 1251.6 1331.8 1237.3 1332.7 1251.4 C1333.5 1265.5 1325.2 1256.0 1326.1 1287.7 C1326.9 1319.4 1328.9 1326.2 1336.0 1370.3 C1343.0 1414.3 1346.3 1417.6 1352.5 1452.8 C1358.6 1488.1 1356.4 1487.4 1359.1 1502.4 C1361.7 1517.4 1361.5 1517.8 1362.4 1509.0 C1363.3 1500.2 1364.1 1497.5 1362.4 1469.4 C1360.6 1441.2 1360.2 1438.5 1355.8 1403.3 C1351.4 1368.1 1350.3 1372.5 1345.9 1337.2 C1341.5 1302.0 1339.3 1297.6 1339.3 1271.2 C1339.3 1244.8 1349.4 1255.8 1345.9 1238.2 C1342.3 1220.5 1337.5 1227.2 1326.1 1205.1 C1314.6 1183.1 1309.1 1182.0 1302.9 1155.6 C1296.8 1129.2 1306.5 1116.6 1302.9 1106.1Z" fill="#532a22" />
<path d="M1302.9 1106.1 C1304.7 1083.2 1299.0 1082.9 1309.5 1069.7 C1320.1 1056.5 1316.1 1059.2 1342.6 1056.5 C1369.0 1053.9 1373.4 1053.7 1408.6 1059.8 C1443.9 1066.0 1448.3 1068.2 1474.7 1079.6 C1501.1 1091.1 1494.5 1094.8 1507.7 1102.8 C1520.9 1110.7 1515.4 1108.9 1524.2 1109.4 C1533.0 1109.8 1535.4 1102.6 1540.7 1104.4 C1546.0 1106.2 1545.8 1105.0 1544.0 1116.0 C1542.3 1127.0 1535.0 1126.3 1534.1 1145.7 C1533.2 1165.1 1534.6 1164.0 1540.7 1188.6 C1546.9 1213.3 1546.7 1207.3 1557.2 1238.2 C1567.8 1269.0 1569.8 1269.0 1580.4 1304.2 C1590.9 1339.4 1589.8 1339.4 1596.9 1370.3 C1603.9 1401.1 1603.3 1395.2 1606.8 1419.8 C1610.3 1444.5 1610.5 1444.3 1610.1 1462.7 C1609.6 1481.2 1609.5 1477.7 1605.1 1489.2 C1600.7 1500.6 1606.3 1500.0 1593.6 1505.7 C1580.8 1511.4 1577.5 1508.4 1557.2 1510.6 C1537.0 1512.8 1535.2 1511.9 1517.6 1513.9 C1500.0 1516.0 1507.0 1516.7 1491.2 1518.2 C1475.3 1519.7 1484.6 1520.1 1458.2 1519.6 C1431.7 1519.0 1417.7 1519.1 1392.1 1516.3 C1366.6 1513.4 1370.3 1521.5 1362.4 1509.0 C1354.5 1496.5 1364.1 1497.5 1362.4 1469.4 C1360.6 1441.2 1360.2 1438.5 1355.8 1403.3 C1351.4 1368.1 1350.3 1372.5 1345.9 1337.2 C1341.5 1302.0 1339.3 1297.6 1339.3 1271.2 C1339.3 1244.8 1349.4 1255.8 1345.9 1238.2 C1342.3 1220.5 1337.5 1227.2 1326.1 1205.1 C1314.6 1183.1 1309.1 1182.0 1302.9 1155.6 C1296.8 1129.2 1301.2 1129.0 1302.9 1106.1Z" fill="url(#gGrip)" />
<g clip-path="url(#cGrip)">
<path d="M1359.1 1178.7 C1368.3 1166.4 1375.6 1177.5 1398.7 1172.1 C1421.8 1166.7 1433.5 1161.8 1458.2 1155.6 C1482.8 1149.4 1491.3 1146.5 1504.4 1145.7 C1517.5 1144.9 1509.7 1140.7 1514.3 1152.3 C1518.9 1163.9 1517.3 1172.1 1524.2 1195.2 C1531.2 1218.3 1534.0 1223.6 1544.0 1251.4 C1554.1 1279.1 1557.9 1284.1 1567.2 1314.1 C1576.4 1344.2 1578.3 1359.4 1583.7 1380.2 C1589.1 1401.0 1596.4 1397.1 1590.3 1403.3 C1584.1 1409.5 1570.3 1402.7 1557.2 1406.6 C1544.1 1410.5 1541.8 1409.0 1534.1 1419.8 C1526.4 1430.6 1526.5 1439.0 1524.2 1452.8 C1521.9 1466.7 1539.6 1473.1 1524.2 1479.3 C1508.8 1485.4 1487.4 1481.6 1458.2 1479.3 C1428.9 1477.0 1417.2 1474.0 1398.7 1469.4 C1380.2 1464.7 1385.1 1474.9 1378.9 1459.4 C1372.7 1444.0 1376.1 1431.8 1372.3 1403.3 C1368.4 1374.8 1365.9 1368.1 1362.4 1337.2 C1358.9 1306.4 1358.2 1297.4 1357.4 1271.2 C1356.7 1245.0 1358.7 1246.5 1359.1 1225.0 C1359.5 1203.4 1349.8 1191.0 1359.1 1178.7Z" fill="url(#pCheck)" />
<path d="M1306.2 1139.1 C1315.0 1141.6 1340.4 1152.8 1359.1 1153.9 C1377.8 1155.0 1399.8 1150.9 1418.5 1145.7 C1437.2 1140.5 1459.3 1129.7 1471.4 1122.6 C1483.5 1115.4 1487.9 1106.1 1491.2 1102.8" stroke="#5e3026" stroke-width="4" fill="none" opacity="0.7"/>
<path d="M1309.5 1149.0 C1317.8 1151.5 1340.9 1162.8 1359.1 1163.9 C1377.2 1165.0 1399.3 1160.8 1418.5 1155.6 C1437.8 1150.4 1460.4 1139.9 1474.7 1132.5 C1489.0 1125.0 1499.4 1114.6 1504.4 1111.0" stroke="#a8665a" stroke-width="5" fill="none" opacity="0.6"/>
<circle cx="1476.3" cy="1324.0" r="35" fill="#80443a"/><circle cx="1476.3" cy="1324.0" r="35" fill="none" stroke="#5e2c22" stroke-width="2"/>
<circle cx="1476.3" cy="1324.0" r="26" fill="none" stroke="#9a5e50" stroke-width="2"/>
<polygon points="1478.3,1304.1 1481.7,1318.1 1495.9,1319.8 1483.7,1327.3 1486.4,1341.3 1475.5,1332.0 1463.0,1339.0 1468.5,1325.7 1458.0,1316.0 1472.3,1317.1" fill="#97594c" />
<circle cx="1567.2" cy="1446.2" r="38" fill="#7a3e30"/>
<circle cx="1567.2" cy="1446.2" r="38" fill="none" stroke="#5a2a20" stroke-width="2.5"/>
<path d="M1553.9 1459.4 L1590.3 1436.3" stroke="#d8d4d0" stroke-width="7" stroke-linecap="round"/>
<path d="M1549.0 1464.4 L1570.5 1452.8" stroke="#3a3230" stroke-width="3" stroke-linecap="round"/>
<polygon points="1362.4,1479.3 1445.0,1485.9 1517.6,1497.4 1524.2,1525.5 1362.4,1515.6" fill="#663226" />
<polygon points="1517.6,1498.4 1558.9,1493.1 1562.2,1497.8 1520.9,1503.7" fill="#cfc8c2" />
<polygon points="1524.2,1503.7 1590.3,1499.7 1590.3,1515.6 1524.2,1518.9" fill="#7e4a3e" />
</g>
<rect x="1621.5" y="1190" width="52" height="26" rx="2" fill="#3c3c40"/>
<line x1="1626.0" y1="1190" x2="1624.0" y2="1216" stroke="#8a8a8e" stroke-width="1.6"/>
<line x1="1632.0" y1="1190" x2="1630.0" y2="1216" stroke="#8a8a8e" stroke-width="1.6"/>
<line x1="1638.0" y1="1190" x2="1636.0" y2="1216" stroke="#8a8a8e" stroke-width="1.6"/>
<line x1="1644.0" y1="1190" x2="1642.0" y2="1216" stroke="#8a8a8e" stroke-width="1.6"/>
<line x1="1650.0" y1="1190" x2="1648.0" y2="1216" stroke="#8a8a8e" stroke-width="1.6"/>
<line x1="1656.0" y1="1190" x2="1654.0" y2="1216" stroke="#8a8a8e" stroke-width="1.6"/>
<line x1="1662.0" y1="1190" x2="1660.0" y2="1216" stroke="#8a8a8e" stroke-width="1.6"/>
<line x1="1668.0" y1="1190" x2="1666.0" y2="1216" stroke="#8a8a8e" stroke-width="1.6"/>
<path d="M1673 1196 L1683 1187 L1728 1185.5 L1729 1228 L1684 1227 L1673 1212 Z" fill="#3a3c42"/>
<rect x="1686" y="1189" width="40" height="6" fill="#8a8c92"/><rect x="1704" y="1203" width="26" height="8" fill="#fbfbfb"/>
<polygon points="1864.7,986.5 1871.3,976.6 1889.6,974.9 1975.9,989.9 1985.9,999.8 1992.6,1026.4 1992.6,1096.1 1982.6,1096.1 1971.0,1076.2 1969.3,1008.1 1896.2,1008.1 1892.9,1016.4 1894.6,1082.8 1886.3,1092.8 1868.0,1089.5 1864.7,1079.5" fill="#3b4242" stroke="#3b4242" stroke-width="2" stroke-linejoin="round"/>
<polygon points="1879.6,981.6 1972.6,996.5 1974.3,1004.8 1892.9,1003.1 1879.6,993.2" fill="#596262" />
<polygon points="1879.6,1049.6 1889.6,1049.6 1890.3,1081.2 1881.3,1086.2" fill="#6a7272" />
<polygon points="1859.7,1139.3 1879.6,1119.4 1902.9,1106.1 1979.3,1116.1 1989.2,1122.7 1997.5,1132.7 2021.0,1662.0 1990.0,1667.0 1873.4,1655.6" fill="url(#gMag)" stroke="#3c4052" stroke-width="2" stroke-linejoin="round"/>
<polygon points="1989.2,1131.0 1997.5,1132.7 2021.0,1662.0 2008.0,1662.0" fill="#2e303a" />
<polygon points="1859.7,1139.3 1879.6,1119.4 1902.9,1106.1 1979.3,1116.1 1989.2,1122.7 1989.2,1136.0 1863.0,1155.9" fill="#4a506a" />
<path d="M1883.0 1215.7 Q1883.6 1199.1 1896.2 1197.4 L1916.2 1202.4 L1918 1575 L1906 1583 L1906 1640 L1896 1640 Z" fill="#15161a"/>
<path d="M1911.2 1212.4 L1912 1570" stroke="#30323a" stroke-width="6"/>
<polygon points="1873.4,1640.0 2017.0,1646.0 2021.0,1662.0 1990.0,1667.0 1873.4,1655.6" fill="#3a3c48" />
<path d="M2138.7 1049.6 L2241.6 1067.8 L2140.3 1092.8 L2242.2 1108.1 L2140.9 1133.1 L2242.8 1148.4 L2141.5 1173.4 L2243.4 1188.7 L2142.1 1213.7 L2244.0 1229.0 L2142.7 1254.0 L2244.6 1269.3 L2143.3 1294.3 L2245.2 1309.6 L2143.9 1334.6 L2245.8 1350.0 L2144.5 1374.9 L2246.4 1390.3 L2145.1 1415.2 L2247.0 1430.6 L2145.7 1455.6 L2247.6 1470.9 L2146.3 1495.9 L2248.2 1511.2 L2146.9 1536.2 L2248.8 1551.5 L2147.5 1576.5 L2249.4 1591.8 L2148.1 1616.8 L2250.0 1632.1 L2148.7 1657.1 L2250.6 1672.4 L2149.3 1697.4 L2251.2 1712.7 L2149.9 1737.7" stroke="#7f6a55" stroke-width="2.6" fill="none" stroke-linejoin="miter"/>
<ellipse cx="2148.6" cy="1049.6" rx="12" ry="3.5" fill="none" stroke="#8b7763" stroke-width="2" transform="rotate(8 2148.6 1049.6)"/>
<polygon points="1376.3,1686.5 1388.8,1684.2 1388.8,1693.5 1439.9,1693.5 1439.9,1684.2 1451.6,1682.8 1453.9,1744.6 1439.9,1751.6 1433.0,1770.2 1409.7,1774.8 1400.4,1756.2 1386.5,1751.6 1377.2,1746.9" fill="#353a42" stroke="#353a42" stroke-width="2" stroke-linejoin="round"/>
<polygon points="1377.2,1687.4 1386.5,1685.6 1387.4,1750.6 1378.1,1746.0" fill="#5a606a" />
<polygon points="1441.3,1685.6 1450.6,1684.2 1453.0,1743.2 1442.3,1749.7" fill="#5a606a" />
<circle cx="1422.7" cy="1716.7" r="11" fill="#fbfbfb"/>
<polygon points="1872.2,1709.7 1883.9,1700.4 2032.6,1699.5 2041.9,1709.7 2039.6,1777.1 2028.0,1784.1 1883.9,1786.4 1871.3,1774.8" fill="#5e5f66" stroke="#5e5f66" stroke-width="2" stroke-linejoin="round"/>
<path d="M1895.5 1739.9 C1896.1 1726.9 1892.1 1724.5 1900.1 1716.7 C1908.2 1708.9 1896.6 1712.5 1925.7 1710.7 C1954.8 1708.8 1981.5 1706.3 2009.4 1709.7 C2037.3 1713.2 2024.7 1710.0 2030.3 1723.7 C2035.9 1737.3 2037.1 1746.6 2030.3 1760.9 C2023.5 1775.1 2033.8 1772.2 2004.7 1777.1 C1975.6 1782.1 1949.6 1782.5 1921.0 1779.5 C1892.5 1776.4 1904.6 1776.0 1897.8 1765.5 C1891.0 1755.0 1894.9 1753.0 1895.5 1739.9Z" fill="#404147" />
<rect x="1898.7" y="1726.0" width="10" height="32" rx="5" fill="#fbfbfb"/>
<line x1="2030.7" y1="1046.3" x2="1989.2" y2="1024.7" stroke="#262223" stroke-width="3.6" stroke-linecap="butt"/>
<line x1="1649.0" y1="1394.4" x2="1591.3" y2="1435.8" stroke="#262223" stroke-width="3.6" stroke-linecap="butt"/>
<line x1="1849.0" y1="1770.2" x2="1902.4" y2="1744.6" stroke="#262223" stroke-width="3.6" stroke-linecap="butt"/>
<line x1="2168.7" y1="1754.0" x2="2145.8" y2="1737.7" stroke="#262223" stroke-width="3.6" stroke-linecap="butt"/>
<text x="2037.4" y="1061.0" font-size="19.5" font-weight="bold" font-style="normal" fill="#1d1a1b" stroke="#1d1a1b" stroke-width="0.45" textLength="56.4" lengthAdjust="spacingAndGlyphs">Зацеп</text>
<text x="1618.3" y="1389.7" font-size="19.5" font-weight="bold" font-style="normal" fill="#1d1a1b" stroke="#1d1a1b" stroke-width="0.45" textLength="74.4" lengthAdjust="spacingAndGlyphs">Антабка</text>
<text x="1742.0" y="1771.5" font-size="19.5" font-weight="bold" font-style="normal" fill="#1d1a1b" stroke="#1d1a1b" stroke-width="0.45" textLength="99.0" lengthAdjust="spacingAndGlyphs">Отверстие</text>
<text x="1725.8" y="1793.0" font-size="19.5" font-weight="bold" font-style="normal" fill="#1d1a1b" stroke="#1d1a1b" stroke-width="0.45" textLength="130.2" lengthAdjust="spacingAndGlyphs">под фиксатор</text>
<text x="2166.8" y="1767.5" font-size="19.5" font-weight="bold" font-style="normal" fill="#1d1a1b" stroke="#1d1a1b" stroke-width="0.45" textLength="90.6" lengthAdjust="spacingAndGlyphs">Фиксатор</text>
<text x="2172.0" y="1788.5" font-size="19.5" font-weight="bold" font-style="normal" fill="#1d1a1b" stroke="#1d1a1b" stroke-width="0.45" textLength="80.8" lengthAdjust="spacingAndGlyphs">пружины</text>
<text x="171.0" y="1922.0" font-size="31.0" font-weight="bold" font-style="normal" fill="#1d1a1b" stroke="#1d1a1b" stroke-width="0.45" textLength="807.0" lengthAdjust="spacingAndGlyphs">НАЗНАЧЕНИЕ ОСНОВНЫХ ЧАСТЕЙ И МЕХАНИЗМОВ</text>
<text x="113.1" y="2770.8" font-size="31.0" font-weight="bold" font-style="normal" fill="#1d1a1b" stroke="#1d1a1b" stroke-width="0.45" textLength="918.9" lengthAdjust="spacingAndGlyphs">НАЗНАЧЕНИЕ ЧАСТЕЙ УДАРНО-СПУСКОВОГО МЕХАНИЗМА</text>
<text x="1368.8" y="1921.0" font-size="31.0" font-weight="bold" font-style="normal" fill="#1d1a1b" stroke="#1d1a1b" stroke-width="0.45" textLength="755.5" lengthAdjust="spacingAndGlyphs">ПОРЯДОК ВЫПОЛНЕНИЯ НЕПОЛНОЙ РАЗБОРКИ</text>
<text x="1386.7" y="2522.4" font-size="31.0" font-weight="bold" font-style="normal" fill="#1d1a1b" stroke="#1d1a1b" stroke-width="0.45" textLength="717.3" lengthAdjust="spacingAndGlyphs">ПОРЯДОК ВЫПОЛНЕНИЯ ПОЛНОЙ РАЗБОРКИ</text>
<text x="1431.3" y="2275.2" font-size="31.0" font-weight="bold" font-style="normal" fill="#1d1a1b" stroke="#1d1a1b" stroke-width="0.45" textLength="615.5" lengthAdjust="spacingAndGlyphs">СБОРКА ПОСЛЕ НЕПОЛНОЙ РАЗБОРКИ</text>
<text x="1232.7" y="2961.9" font-size="31.0" font-weight="bold" font-style="normal" fill="#1d1a1b" stroke="#1d1a1b" stroke-width="0.45" textLength="1009.2" lengthAdjust="spacingAndGlyphs">СБОРКА ПРОИЗВОДИТСЯ В ОБРАТНОЙ ПОСЛЕДОВАТЕЛЬНОСТИ</text>
</svg>
<div class="ln" style="left:44.5px;top:1975.2px;letter-spacing:0.70px;word-spacing:3.22px;"><b>РАМКА -</b> служит для соединения всех частей и механизмов.</div>
<div class="ln" style="left:44.5px;top:2010.0px;letter-spacing:0.70px;word-spacing:2.95px;"><b>СТВОЛ -</b> служит для направления полета пули.</div>
<div class="ln" style="left:44.5px;top:2046.7px;letter-spacing:0.70px;word-spacing:15.39px;"><b>СПУСКОВАЯ СКОБА -</b> служит для предохранения спускового крючка от</div>
<div class="ln" style="left:44.5px;top:2082.2px;letter-spacing:0.70px;word-spacing:-0.81px;">случайного нажатия.</div>
<div class="ln" style="left:44.5px;top:2120.0px;letter-spacing:0.70px;word-spacing:0.38px;"><b>ЗАТВОР -</b> служит для досылания патрона в патронник; запирания канала ствола</div>
<div class="ln" style="left:44.5px;top:2155.0px;letter-spacing:0.70px;word-spacing:3.05px;">при выстреле; выбрасывания стреляной гильзы (патрона); &nbsp;взведения курка.</div>
<div class="ln" style="left:44.5px;top:2194.8px;letter-spacing:0.70px;word-spacing:4.35px;"><b>ВЫБРАСЫВАТЕЛЬ -</b> служит для удержания гильзы (патрона) до их встречи с</div>
<div class="ln" style="left:44.5px;top:2228.7px;letter-spacing:0.50px;">отражателем.</div>
<div class="ln" style="left:44.5px;top:2266.7px;letter-spacing:0.70px;word-spacing:2.93px;"><b>УДАРНИК -</b> служит для нанесения удара по капсюлю.</div>
<div class="ln" style="left:44.5px;top:2303.1px;letter-spacing:0.70px;word-spacing:8.47px;"><b>ПРЕДОХРАНИТЕЛЬ -</b> служит для запирания затвора с рамкой, ограничения</div>
<div class="ln" style="left:44.5px;top:2335.5px;letter-spacing:0.70px;word-spacing:4.55px;">движения курка (вперед и назад), снятия курка с боевого взвода и удержание</div>
<div class="ln" style="left:44.5px;top:2366.7px;letter-spacing:0.22px;">ударника.</div>
<div class="ln" style="left:44.5px;top:2407.7px;letter-spacing:0.70px;word-spacing:16.05px;"><b>ВОЗВРАТНАЯ ПРУЖИНА -</b> служит для возвращения затвора в крайнее</div>
<div class="ln" style="left:44.5px;top:2440.7px;letter-spacing:0.70px;word-spacing:5.11px;">переднее положение.</div>
<div class="ln" style="left:44.5px;top:2478.3px;letter-spacing:0.70px;word-spacing:-1.63px;"><b>РУКОЯТКА -</b> служит для удержания пистолета в руке</div>
<div class="ln" style="left:44.5px;top:2523.2px;letter-spacing:0.70px;word-spacing:6.03px;"><b>ЗАТВОРНАЯ ЗАДЕРЖКА -</b> служит для удержания затвора в крайнем заднем</div>
<div class="ln" style="left:44.5px;top:2557.7px;letter-spacing:0.70px;word-spacing:11.41px;">положении при израсходовании всех патронов в пистолете и при осмотре</div>
<div class="ln" style="left:44.5px;top:2590.2px;letter-spacing:-0.20px;">оружия.</div>
<div class="ln" style="left:44.5px;top:2632.2px;letter-spacing:0.70px;word-spacing:3.44px;"><b>МАГАЗИН -</b> служит для размещения и подачи патронов.</div>
<div class="ln" style="left:42.5px;top:2821.7px;letter-spacing:0.70px;word-spacing:2.83px;"><b>КУРОК -</b> служит для нанесения удара по ударнику.</div>
<div class="ln" style="left:42.5px;top:2864.1px;letter-spacing:0.70px;word-spacing:15.96px;"><b>ШЕПТАЛО С ПРУЖИНОЙ -</b> служит для удержания курка на боевом и</div>
<div class="ln" style="left:42.5px;top:2897.2px;letter-spacing:0.70px;word-spacing:5.40px;">предохранительном взводе.</div>
<div class="ln" style="left:42.5px;top:2937.7px;letter-spacing:0.70px;word-spacing:0.87px;"><b>БОЕВАЯ ПРУЖИНА -</b> служит для приведения в действие курка и спусковой тяги</div>
<div class="ln" style="left:42.5px;top:2968.5px;letter-spacing:0.70px;word-spacing:1.30px;">с рычагом взвода.</div>
<div class="ln" style="left:42.5px;top:3011.7px;letter-spacing:0.70px;word-spacing:6.77px;"><b>ЗАДВИЖКА БОЕВОЙ ПРУЖИНЫ -</b> служит для крепления боевой пружины к</div>
<div class="ln" style="left:42.5px;top:3042.7px;letter-spacing:0.70px;word-spacing:5.04px;">основанию рукоятки пистолета.</div>
<div class="ln" style="left:42.5px;top:3084.7px;letter-spacing:0.70px;word-spacing:2.50px;"><b>СПУСКОВАЯ ТЯГА С РЫЧАГОМ ВЗВОДА И СПУСКОВОЙ КРЮЧОК</b></div>
<div class="ln" style="left:42.5px;top:3121.7px;letter-spacing:0.70px;word-spacing:1.34px;">- служат для спуска курка с боевого взвода, а также для взведения и снятия его</div>
<div class="ln" style="left:44.2px;top:3160.5px;letter-spacing:0.70px;word-spacing:2.07px;">с боевого взвода при стрельбе самовзводом.</div>
<div class="ln" style="left:1200.2px;top:1954.5px;"><b>1.</b></div>
<div class="ln" style="left:1238.6px;top:1954.5px;letter-spacing:0.70px;word-spacing:3.86px;">Удерживать оружие в безопасном направлении.</div>
<div class="ln" style="left:1200.2px;top:1991.8px;"><b>2.</b></div>
<div class="ln" style="left:1238.6px;top:1991.8px;letter-spacing:0.70px;word-spacing:4.55px;">Извлечь магазин.</div>
<div class="ln" style="left:1200.2px;top:2029.5px;"><b>3.</b></div>
<div class="ln" style="left:1238.6px;top:2029.5px;letter-spacing:0.70px;word-spacing:1.19px;">Выключить предохранитель, и проверить, нет ли патрона в патроннике.</div>
<div class="ln" style="left:1200.2px;top:2067.2px;"><b>4.</b></div>
<div class="ln" style="left:1238.6px;top:2067.2px;letter-spacing:0.70px;word-spacing:2.44px;">Отвести спусковую скобу вниз, перекосить ее влево и отделить затвор.</div>
<div class="ln" style="left:1200.2px;top:2104.6px;"><b>5.</b></div>
<div class="ln" style="left:1236.4px;top:2104.6px;letter-spacing:0.70px;word-spacing:4.60px;">Снять возвратную пружину.</div>
<div class="ln" style="left:1200.2px;top:2141.8px;"><b>6.</b></div>
<div class="ln" style="left:1233.0px;top:2141.8px;letter-spacing:0.70px;word-spacing:1.00px;">Поставить на место спусковую скобу.</div>
<div class="ln" style="left:1200.2px;top:2179.7px;"><b>7.</b></div>
<div class="ln" style="left:1233.6px;top:2179.7px;letter-spacing:0.70px;word-spacing:0.27px;">Удерживая головку курка, поставить его на предохранительный взвод.</div>
<div class="ln" style="left:1200.2px;top:2287.7px;"><b>1.</b></div>
<div class="ln" style="left:1238.6px;top:2287.7px;letter-spacing:0.70px;word-spacing:2.28px;">Одеть возвратную пружину, и поставить курок на боевой взвод.</div>
<div class="ln" style="left:1200.2px;top:2325.5px;"><b>2.</b></div>
<div class="ln" style="left:1238.6px;top:2325.5px;letter-spacing:0.70px;word-spacing:3.76px;">Присоединить затвор, включить предохранитель и вернуть спусковую</div>
<div class="ln" style="left:1241.6px;top:2362.8px;letter-spacing:0.70px;word-spacing:2.60px;">скобу на исходное место.</div>
<div class="ln" style="left:1200.2px;top:2400.2px;"><b>3.</b></div>
<div class="ln" style="left:1238.8px;top:2400.2px;letter-spacing:0.70px;word-spacing:1.90px;">Вставить магазин в основание рукоятки пистолета, включить предохранитель.</div>
<div class="ln" style="left:1197.8px;top:2544.5px;"><b>I.</b></div>
<div class="ln" style="left:1249.0px;top:2544.5px;letter-spacing:0.70px;word-spacing:7.84px;">Произвести неполную разборку.</div>
<div class="ln" style="left:1197.8px;top:2582.6px;"><b>II.</b></div>
<div class="ln" style="left:1247.5px;top:2582.6px;letter-spacing:0.70px;word-spacing:3.05px;">Отделить следующие детали:</div>
<div class="ln" style="left:1252.2px;top:2620.2px;">1.</div>
<div class="ln" style="left:1283.0px;top:2620.2px;letter-spacing:0.70px;word-spacing:3.64px;">Шептало с пружиной и затворную задержку;</div>
<div class="ln" style="left:1252.2px;top:2657.6px;">2.</div>
<div class="ln" style="left:1283.2px;top:2657.6px;letter-spacing:0.70px;word-spacing:2.18px;">Рукоятку с винтом;</div>
<div class="ln" style="left:1252.2px;top:2695.7px;">3.</div>
<div class="ln" style="left:1283.0px;top:2695.7px;letter-spacing:0.70px;word-spacing:3.40px;">Задвижку боевой пружины и боевую пружину;</div>
<div class="ln" style="left:1252.2px;top:2733.3px;">4.</div>
<div class="ln" style="left:1284.0px;top:2733.3px;letter-spacing:0.90px;">Курок;</div>
<div class="ln" style="left:1252.2px;top:2771.0px;">5.</div>
<div class="ln" style="left:1283.0px;top:2771.0px;letter-spacing:0.70px;word-spacing:3.18px;">Спусковую тягу с рычагом взвода;</div>
<div class="ln" style="left:1252.2px;top:2808.7px;">6.</div>
<div class="ln" style="left:1283.0px;top:2808.7px;letter-spacing:0.70px;word-spacing:8.02px;">Спусковой крючок.</div>
<div class="ln" style="left:1197.1px;top:2846.3px;"><b>III.</b></div>
<div class="ln" style="left:1245.9px;top:2846.3px;letter-spacing:0.70px;word-spacing:3.49px;">Разобрать затвор - отделить предохранитель, ударник и выбрасыватель.</div>
<div class="ln" style="left:1196.9px;top:2884.1px;"><b>IV.</b></div>
<div class="ln" style="left:1240.0px;top:2884.1px;letter-spacing:0.70px;word-spacing:4.95px;">Разобрать магазин - отделить крышку, пружину и подаватель.</div>
<div class="ln" style="left:1231.0px;top:2977.8px;letter-spacing:-0.20px;font-style:italic;">ПРИМЕЧАНИЕ:</div>
<div class="ln" style="left:1199.3px;top:3015.2px;">1.</div>
<div class="ln" style="left:1230.3px;top:3015.2px;letter-spacing:0.70px;word-spacing:4.56px;">При неполной разборке допускается отделение затвора без</div>
<div class="ln" style="left:1232.7px;top:3053.5px;letter-spacing:0.70px;word-spacing:4.47px;">предварительного его снятия с затворной задержки.</div>
<div class="ln" style="left:1196.5px;top:3091.8px;">2.</div>
<div class="ln" style="left:1229.7px;top:3091.8px;letter-spacing:0.70px;word-spacing:0.28px;">При сборке пистолета узкое перо боевой пружины кладется на пяточку рычага</div>
<div class="ln" style="left:1232.7px;top:3129.7px;letter-spacing:0.70px;word-spacing:10.13px;">взвода, а не в вырез самовзвода. В противном случае при нажатии на</div>
<div class="ln" style="left:1233.3px;top:3167.8px;letter-spacing:0.70px;word-spacing:3.69px;">спусковой крючок рычаг взвода может сломать узкое перо боевой пружины.</div>
</body></html>
